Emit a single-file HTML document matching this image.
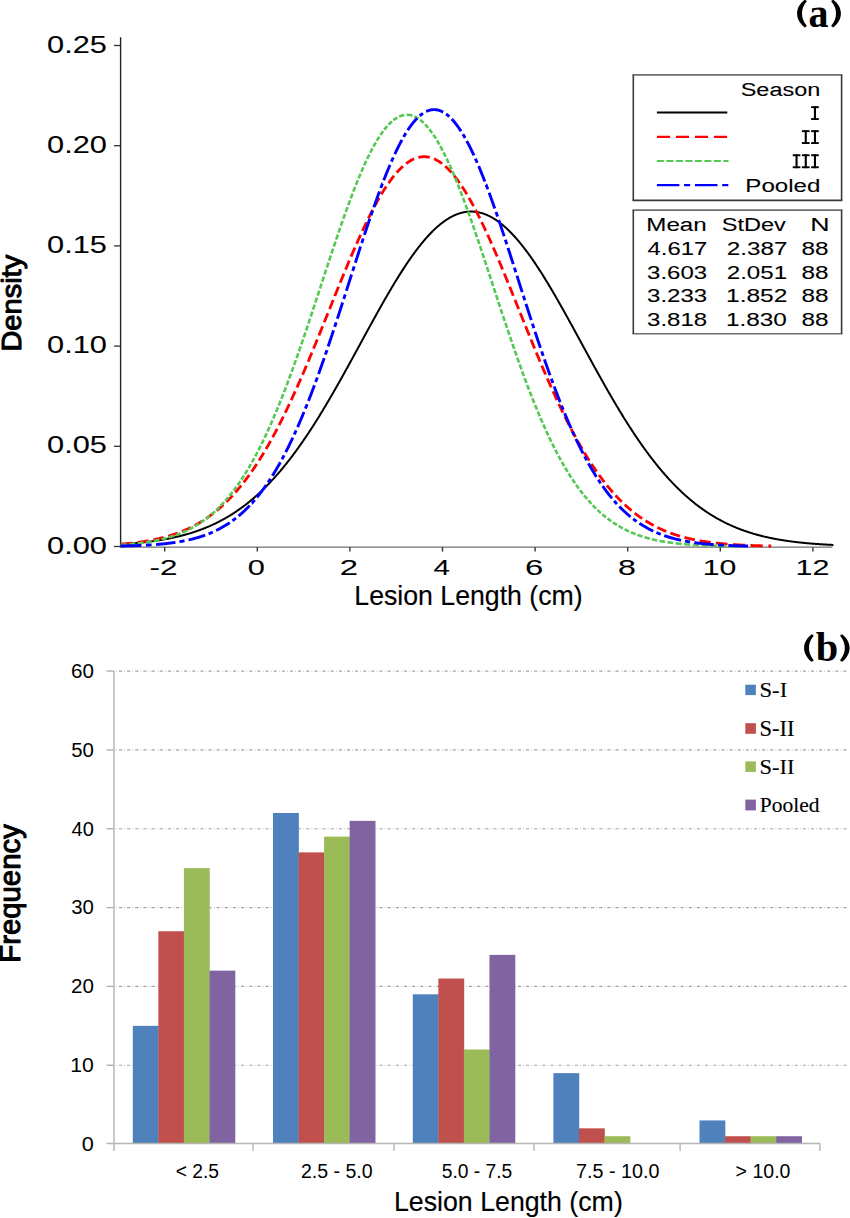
<!DOCTYPE html>
<html><head><meta charset="utf-8"><title>Lesion length distribution</title>
<style>html,body{margin:0;padding:0;background:#fff;overflow:hidden;}  svg{display:block;} text{white-space:pre;}</style>
</head><body><svg width="850" height="1218" viewBox="0 0 850 1218"><line x1="120.6" y1="37.3" x2="120.6" y2="547.5" stroke="#222" stroke-width="1.4"/><line x1="120" y1="547.2" x2="832.5" y2="547.2" stroke="#707070" stroke-width="1.3"/><line x1="114" y1="45.50" x2="120.6" y2="45.50" stroke="#333" stroke-width="1.3"/><line x1="114" y1="145.70" x2="120.6" y2="145.70" stroke="#333" stroke-width="1.3"/><line x1="114" y1="245.90" x2="120.6" y2="245.90" stroke="#333" stroke-width="1.3"/><line x1="114" y1="346.10" x2="120.6" y2="346.10" stroke="#333" stroke-width="1.3"/><line x1="114" y1="446.30" x2="120.6" y2="446.30" stroke="#333" stroke-width="1.3"/><line x1="114" y1="546.50" x2="120.6" y2="546.50" stroke="#333" stroke-width="1.3"/><line x1="164.70" y1="547.2" x2="164.70" y2="551.6" stroke="#333" stroke-width="1.4"/><line x1="257.30" y1="547.2" x2="257.30" y2="551.6" stroke="#333" stroke-width="1.4"/><line x1="349.90" y1="547.2" x2="349.90" y2="551.6" stroke="#333" stroke-width="1.4"/><line x1="442.50" y1="547.2" x2="442.50" y2="551.6" stroke="#333" stroke-width="1.4"/><line x1="535.10" y1="547.2" x2="535.10" y2="551.6" stroke="#333" stroke-width="1.4"/><line x1="627.70" y1="547.2" x2="627.70" y2="551.6" stroke="#333" stroke-width="1.4"/><line x1="720.30" y1="547.2" x2="720.30" y2="551.6" stroke="#333" stroke-width="1.4"/><line x1="812.90" y1="547.2" x2="812.90" y2="551.6" stroke="#333" stroke-width="1.4"/><path d="M120.60,544.31 L121.08,544.28 L121.55,544.25 L122.03,544.21 L122.50,544.18 L122.98,544.15 L123.45,544.12 L123.93,544.09 L124.40,544.05 L124.88,544.02 L125.35,543.99 L125.83,543.95 L126.30,543.92 L126.78,543.88 L127.25,543.85 L127.73,543.81 L128.20,543.78 L128.68,543.74 L129.15,543.70 L129.63,543.67 L130.10,543.63 L130.58,543.59 L131.05,543.55 L131.53,543.51 L132.00,543.47 L132.48,543.43 L132.96,543.39 L133.43,543.35 L133.91,543.31 L134.38,543.27 L134.86,543.22 L135.33,543.18 L135.81,543.14 L136.28,543.09 L136.76,543.05 L137.23,543.00 L137.71,542.96 L138.18,542.91 L138.66,542.86 L139.13,542.82 L139.61,542.77 L140.08,542.72 L140.56,542.67 L141.03,542.62 L141.51,542.57 L141.98,542.52 L142.46,542.47 L142.93,542.42 L143.41,542.37 L143.88,542.31 L144.36,542.26 L144.84,542.21 L145.31,542.15 L145.79,542.10 L146.26,542.04 L146.74,541.98 L147.21,541.93 L147.69,541.87 L148.16,541.81 L148.64,541.75 L149.11,541.69 L149.59,541.63 L150.06,541.57 L150.54,541.51 L151.01,541.44 L151.49,541.38 L151.96,541.32 L152.44,541.25 L152.91,541.19 L153.39,541.12 L153.86,541.05 L154.34,540.99 L154.81,540.92 L155.29,540.85 L155.76,540.78 L156.24,540.71 L156.72,540.64 L157.19,540.56 L157.67,540.49 L158.14,540.42 L158.62,540.34 L159.09,540.27 L159.57,540.19 L160.04,540.12 L160.52,540.04 L160.99,539.96 L161.47,539.88 L161.94,539.80 L162.42,539.72 L162.89,539.64 L163.37,539.55 L163.84,539.47 L164.32,539.39 L164.79,539.30 L165.27,539.21 L165.74,539.13 L166.22,539.04 L166.69,538.95 L167.17,538.86 L167.64,538.77 L168.12,538.68 L168.60,538.59 L169.07,538.49 L169.55,538.40 L170.02,538.30 L170.50,538.20 L170.97,538.11 L171.45,538.01 L171.92,537.91 L172.40,537.81 L172.87,537.71 L173.35,537.60 L173.82,537.50 L174.30,537.40 L174.77,537.29 L175.25,537.18 L175.72,537.08 L176.20,536.97 L176.67,536.86 L177.15,536.75 L177.62,536.64 L178.10,536.52 L178.57,536.41 L179.05,536.29 L179.52,536.18 L180.00,536.06 L180.48,535.94 L180.95,535.82 L181.43,535.70 L181.90,535.58 L182.38,535.45 L182.85,535.33 L183.33,535.20 L183.80,535.07 L184.28,534.95 L184.75,534.82 L185.23,534.69 L185.70,534.55 L186.18,534.42 L186.65,534.29 L187.13,534.15 L187.60,534.01 L188.08,533.87 L188.55,533.74 L189.03,533.59 L189.50,533.45 L189.98,533.31 L190.45,533.16 L190.93,533.02 L191.40,532.87 L191.88,532.72 L192.36,532.57 L192.83,532.42 L193.31,532.27 L193.78,532.11 L194.26,531.96 L194.73,531.80 L195.21,531.64 L195.68,531.48 L196.16,531.32 L196.63,531.15 L197.11,530.99 L197.58,530.82 L198.06,530.66 L198.53,530.49 L199.01,530.32 L199.48,530.14 L199.96,529.97 L200.43,529.80 L200.91,529.62 L201.38,529.44 L201.86,529.26 L202.33,529.08 L202.81,528.90 L203.28,528.71 L203.76,528.53 L204.24,528.34 L204.71,528.15 L205.19,527.96 L205.66,527.77 L206.14,527.57 L206.61,527.37 L207.09,527.18 L207.56,526.98 L208.04,526.78 L208.51,526.57 L208.99,526.37 L209.46,526.16 L209.94,525.96 L210.41,525.75 L210.89,525.54 L211.36,525.32 L211.84,525.11 L212.31,524.89 L212.79,524.67 L213.26,524.45 L213.74,524.23 L214.21,524.01 L214.69,523.78 L215.16,523.55 L215.64,523.32 L216.12,523.09 L216.59,522.86 L217.07,522.62 L217.54,522.39 L218.02,522.15 L218.49,521.91 L218.97,521.66 L219.44,521.42 L219.92,521.17 L220.39,520.93 L220.87,520.67 L221.34,520.42 L221.82,520.17 L222.29,519.91 L222.77,519.65 L223.24,519.39 L223.72,519.13 L224.19,518.87 L224.67,518.60 L225.14,518.33 L225.62,518.06 L226.09,517.79 L226.57,517.51 L227.04,517.24 L227.52,516.96 L228.00,516.68 L228.47,516.39 L228.95,516.11 L229.42,515.82 L229.90,515.53 L230.37,515.24 L230.85,514.95 L231.32,514.65 L231.80,514.35 L232.27,514.05 L232.75,513.75 L233.22,513.44 L233.70,513.14 L234.17,512.83 L234.65,512.52 L235.12,512.20 L235.60,511.89 L236.07,511.57 L236.55,511.25 L237.02,510.93 L237.50,510.60 L237.97,510.27 L238.45,509.94 L238.92,509.61 L239.40,509.28 L239.88,508.94 L240.35,508.60 L240.83,508.26 L241.30,507.92 L241.78,507.57 L242.25,507.22 L242.73,506.87 L243.20,506.52 L243.68,506.16 L244.15,505.80 L244.63,505.44 L245.10,505.08 L245.58,504.72 L246.05,504.35 L246.53,503.98 L247.00,503.60 L247.48,503.23 L247.95,502.85 L248.43,502.47 L248.90,502.09 L249.38,501.70 L249.85,501.32 L250.33,500.93 L250.80,500.53 L251.28,500.14 L251.76,499.74 L252.23,499.34 L252.71,498.94 L253.18,498.53 L253.66,498.12 L254.13,497.71 L254.61,497.30 L255.08,496.89 L255.56,496.47 L256.03,496.05 L256.51,495.62 L256.98,495.20 L257.46,494.77 L257.93,494.34 L258.41,493.90 L258.88,493.47 L259.36,493.03 L259.83,492.59 L260.31,492.14 L260.78,491.69 L261.26,491.25 L261.73,490.79 L262.21,490.34 L262.68,489.88 L263.16,489.42 L263.64,488.96 L264.11,488.49 L264.59,488.02 L265.06,487.55 L265.54,487.08 L266.01,486.60 L266.49,486.12 L266.96,485.64 L267.44,485.16 L267.91,484.67 L268.39,484.18 L268.86,483.69 L269.34,483.19 L269.81,482.69 L270.29,482.19 L270.76,481.69 L271.24,481.18 L271.71,480.67 L272.19,480.16 L272.66,479.64 L273.14,479.13 L273.61,478.61 L274.09,478.08 L274.56,477.56 L275.04,477.03 L275.52,476.50 L275.99,475.96 L276.47,475.43 L276.94,474.89 L277.42,474.35 L277.89,473.80 L278.37,473.25 L278.84,472.70 L279.32,472.15 L279.79,471.59 L280.27,471.03 L280.74,470.47 L281.22,469.91 L281.69,469.34 L282.17,468.77 L282.64,468.20 L283.12,467.62 L283.59,467.05 L284.07,466.46 L284.54,465.88 L285.02,465.29 L285.49,464.71 L285.97,464.11 L286.44,463.52 L286.92,462.92 L287.40,462.32 L287.87,461.72 L288.35,461.11 L288.82,460.50 L289.30,459.89 L289.77,459.28 L290.25,458.66 L290.72,458.04 L291.20,457.42 L291.67,456.80 L292.15,456.17 L292.62,455.54 L293.10,454.91 L293.57,454.27 L294.05,453.63 L294.52,452.99 L295.00,452.35 L295.47,451.70 L295.95,451.05 L296.42,450.40 L296.90,449.75 L297.37,449.09 L297.85,448.43 L298.32,447.77 L298.80,447.10 L299.28,446.44 L299.75,445.77 L300.23,445.09 L300.70,444.42 L301.18,443.74 L301.65,443.06 L302.13,442.38 L302.60,441.69 L303.08,441.00 L303.55,440.31 L304.03,439.62 L304.50,438.92 L304.98,438.22 L305.45,437.52 L305.93,436.82 L306.40,436.11 L306.88,435.41 L307.35,434.69 L307.83,433.98 L308.30,433.27 L308.78,432.55 L309.25,431.83 L309.73,431.10 L310.20,430.38 L310.68,429.65 L311.16,428.92 L311.63,428.19 L312.11,427.45 L312.58,426.71 L313.06,425.97 L313.53,425.23 L314.01,424.49 L314.48,423.74 L314.96,422.99 L315.43,422.24 L315.91,421.49 L316.38,420.73 L316.86,419.97 L317.33,419.21 L317.81,418.45 L318.28,417.69 L318.76,416.92 L319.23,416.15 L319.71,415.38 L320.18,414.61 L320.66,413.83 L321.13,413.05 L321.61,412.27 L322.08,411.49 L322.56,410.71 L323.04,409.92 L323.51,409.14 L323.99,408.35 L324.46,407.56 L324.94,406.76 L325.41,405.97 L325.89,405.17 L326.36,404.37 L326.84,403.57 L327.31,402.77 L327.79,401.96 L328.26,401.15 L328.74,400.35 L329.21,399.54 L329.69,398.72 L330.16,397.91 L330.64,397.09 L331.11,396.28 L331.59,395.46 L332.06,394.64 L332.54,393.82 L333.01,392.99 L333.49,392.17 L333.96,391.34 L334.44,390.51 L334.92,389.68 L335.39,388.85 L335.87,388.02 L336.34,387.18 L336.82,386.35 L337.29,385.51 L337.77,384.67 L338.24,383.83 L338.72,382.99 L339.19,382.15 L339.67,381.30 L340.14,380.46 L340.62,379.61 L341.09,378.77 L341.57,377.92 L342.04,377.07 L342.52,376.22 L342.99,375.36 L343.47,374.51 L343.94,373.66 L344.42,372.80 L344.89,371.94 L345.37,371.09 L345.84,370.23 L346.32,369.37 L346.80,368.51 L347.27,367.65 L347.75,366.79 L348.22,365.92 L348.70,365.06 L349.17,364.20 L349.65,363.33 L350.12,362.47 L350.60,361.60 L351.07,360.73 L351.55,359.86 L352.02,359.00 L352.50,358.13 L352.97,357.26 L353.45,356.39 L353.92,355.52 L354.40,354.65 L354.87,353.78 L355.35,352.91 L355.82,352.03 L356.30,351.16 L356.77,350.29 L357.25,349.42 L357.72,348.54 L358.20,347.67 L358.68,346.80 L359.15,345.92 L359.63,345.05 L360.10,344.18 L360.58,343.30 L361.05,342.43 L361.53,341.56 L362.00,340.68 L362.48,339.81 L362.95,338.94 L363.43,338.06 L363.90,337.19 L364.38,336.32 L364.85,335.45 L365.33,334.58 L365.80,333.70 L366.28,332.83 L366.75,331.96 L367.23,331.09 L367.70,330.22 L368.18,329.35 L368.65,328.48 L369.13,327.61 L369.60,326.75 L370.08,325.88 L370.56,325.01 L371.03,324.15 L371.51,323.28 L371.98,322.42 L372.46,321.55 L372.93,320.69 L373.41,319.83 L373.88,318.97 L374.36,318.11 L374.83,317.25 L375.31,316.39 L375.78,315.54 L376.26,314.68 L376.73,313.83 L377.21,312.97 L377.68,312.12 L378.16,311.27 L378.63,310.42 L379.11,309.57 L379.58,308.72 L380.06,307.88 L380.53,307.03 L381.01,306.19 L381.48,305.35 L381.96,304.51 L382.44,303.67 L382.91,302.84 L383.39,302.00 L383.86,301.17 L384.34,300.34 L384.81,299.51 L385.29,298.68 L385.76,297.85 L386.24,297.03 L386.71,296.21 L387.19,295.39 L387.66,294.57 L388.14,293.75 L388.61,292.94 L389.09,292.12 L389.56,291.31 L390.04,290.51 L390.51,289.70 L390.99,288.90 L391.46,288.09 L391.94,287.30 L392.41,286.50 L392.89,285.70 L393.36,284.91 L393.84,284.12 L394.32,283.34 L394.79,282.55 L395.27,281.77 L395.74,280.99 L396.22,280.21 L396.69,279.44 L397.17,278.67 L397.64,277.90 L398.12,277.13 L398.59,276.37 L399.07,275.61 L399.54,274.85 L400.02,274.10 L400.49,273.35 L400.97,272.60 L401.44,271.85 L401.92,271.11 L402.39,270.37 L402.87,269.63 L403.34,268.90 L403.82,268.17 L404.29,267.45 L404.77,266.72 L405.24,266.00 L405.72,265.29 L406.20,264.57 L406.67,263.86 L407.15,263.16 L407.62,262.45 L408.10,261.75 L408.57,261.06 L409.05,260.37 L409.52,259.68 L410.00,258.99 L410.47,258.31 L410.95,257.63 L411.42,256.96 L411.90,256.29 L412.37,255.62 L412.85,254.96 L413.32,254.30 L413.80,253.65 L414.27,253.00 L414.75,252.35 L415.22,251.71 L415.70,251.07 L416.17,250.44 L416.65,249.81 L417.12,249.18 L417.60,248.56 L418.08,247.94 L418.55,247.33 L419.03,246.72 L419.50,246.11 L419.98,245.51 L420.45,244.92 L420.93,244.32 L421.40,243.74 L421.88,243.15 L422.35,242.58 L422.83,242.00 L423.30,241.43 L423.78,240.87 L424.25,240.31 L424.73,239.75 L425.20,239.20 L425.68,238.66 L426.15,238.12 L426.63,237.58 L427.10,237.05 L427.58,236.52 L428.05,236.00 L428.53,235.48 L429.00,234.97 L429.48,234.46 L429.96,233.96 L430.43,233.46 L430.91,232.97 L431.38,232.48 L431.86,232.00 L432.33,231.52 L432.81,231.05 L433.28,230.58 L433.76,230.12 L434.23,229.66 L434.71,229.21 L435.18,228.77 L435.66,228.33 L436.13,227.89 L436.61,227.46 L437.08,227.04 L437.56,226.62 L438.03,226.20 L438.51,225.79 L438.98,225.39 L439.46,224.99 L439.93,224.60 L440.41,224.21 L440.88,223.83 L441.36,223.45 L441.84,223.08 L442.31,222.72 L442.79,222.36 L443.26,222.00 L443.74,221.66 L444.21,221.31 L444.69,220.98 L445.16,220.64 L445.64,220.32 L446.11,220.00 L446.59,219.69 L447.06,219.38 L447.54,219.07 L448.01,218.78 L448.49,218.49 L448.96,218.20 L449.44,217.92 L449.91,217.65 L450.39,217.38 L450.86,217.12 L451.34,216.86 L451.81,216.61 L452.29,216.37 L452.76,216.13 L453.24,215.90 L453.72,215.67 L454.19,215.45 L454.67,215.24 L455.14,215.03 L455.62,214.83 L456.09,214.63 L456.57,214.44 L457.04,214.26 L457.52,214.08 L457.99,213.90 L458.47,213.74 L458.94,213.58 L459.42,213.42 L459.89,213.28 L460.37,213.13 L460.84,213.00 L461.32,212.87 L461.79,212.75 L462.27,212.63 L462.74,212.52 L463.22,212.41 L463.69,212.31 L464.17,212.22 L464.64,212.13 L465.12,212.05 L465.60,211.98 L466.07,211.91 L466.55,211.85 L467.02,211.79 L467.50,211.74 L467.97,211.70 L468.45,211.66 L468.92,211.63 L469.40,211.61 L469.87,211.59 L470.35,211.58 L470.82,211.57 L471.30,211.57 L471.77,211.58 L472.25,211.59 L472.72,211.61 L473.20,211.63 L473.67,211.66 L474.15,211.70 L474.62,211.74 L475.10,211.79 L475.57,211.85 L476.05,211.91 L476.52,211.98 L477.00,212.05 L477.48,212.13 L477.95,212.22 L478.43,212.31 L478.90,212.41 L479.38,212.51 L479.85,212.63 L480.33,212.74 L480.80,212.87 L481.28,213.00 L481.75,213.13 L482.23,213.27 L482.70,213.42 L483.18,213.57 L483.65,213.73 L484.13,213.90 L484.60,214.07 L485.08,214.25 L485.55,214.43 L486.03,214.62 L486.50,214.82 L486.98,215.02 L487.45,215.23 L487.93,215.44 L488.40,215.67 L488.88,215.89 L489.36,216.12 L489.83,216.36 L490.31,216.61 L490.78,216.86 L491.26,217.11 L491.73,217.37 L492.21,217.64 L492.68,217.91 L493.16,218.19 L493.63,218.48 L494.11,218.77 L494.58,219.07 L495.06,219.37 L495.53,219.68 L496.01,219.99 L496.48,220.31 L496.96,220.64 L497.43,220.97 L497.91,221.30 L498.38,221.65 L498.86,221.99 L499.33,222.35 L499.81,222.71 L500.28,223.07 L500.76,223.44 L501.24,223.82 L501.71,224.20 L502.19,224.59 L502.66,224.98 L503.14,225.38 L503.61,225.78 L504.09,226.19 L504.56,226.60 L505.04,227.02 L505.51,227.45 L505.99,227.88 L506.46,228.31 L506.94,228.75 L507.41,229.20 L507.89,229.65 L508.36,230.11 L508.84,230.57 L509.31,231.04 L509.79,231.51 L510.26,231.99 L510.74,232.47 L511.21,232.95 L511.69,233.45 L512.16,233.94 L512.64,234.45 L513.12,234.95 L513.59,235.47 L514.07,235.98 L514.54,236.50 L515.02,237.03 L515.49,237.56 L515.97,238.10 L516.44,238.64 L516.92,239.19 L517.39,239.74 L517.87,240.29 L518.34,240.85 L518.82,241.42 L519.29,241.99 L519.77,242.56 L520.24,243.14 L520.72,243.72 L521.19,244.31 L521.67,244.90 L522.14,245.49 L522.62,246.09 L523.09,246.70 L523.57,247.31 L524.04,247.92 L524.52,248.54 L525.00,249.16 L525.47,249.79 L525.95,250.42 L526.42,251.05 L526.90,251.69 L527.37,252.33 L527.85,252.98 L528.32,253.63 L528.80,254.28 L529.27,254.94 L529.75,255.60 L530.22,256.27 L530.70,256.94 L531.17,257.61 L531.65,258.29 L532.12,258.97 L532.60,259.66 L533.07,260.34 L533.55,261.04 L534.02,261.73 L534.50,262.43 L534.97,263.13 L535.45,263.84 L535.92,264.55 L536.40,265.26 L536.88,265.98 L537.35,266.70 L537.83,267.42 L538.30,268.15 L538.78,268.88 L539.25,269.61 L539.73,270.35 L540.20,271.09 L540.68,271.83 L541.15,272.58 L541.63,273.32 L542.10,274.08 L542.58,274.83 L543.05,275.59 L543.53,276.35 L544.00,277.11 L544.48,277.88 L544.95,278.64 L545.43,279.42 L545.90,280.19 L546.38,280.97 L546.85,281.75 L547.33,282.53 L547.80,283.31 L548.28,284.10 L548.76,284.89 L549.23,285.68 L549.71,286.48 L550.18,287.27 L550.66,288.07 L551.13,288.87 L551.61,289.68 L552.08,290.48 L552.56,291.29 L553.03,292.10 L553.51,292.91 L553.98,293.73 L554.46,294.54 L554.93,295.36 L555.41,296.18 L555.88,297.00 L556.36,297.83 L556.83,298.65 L557.31,299.48 L557.78,300.31 L558.26,301.14 L558.73,301.98 L559.21,302.81 L559.68,303.65 L560.16,304.49 L560.64,305.33 L561.11,306.17 L561.59,307.01 L562.06,307.85 L562.54,308.70 L563.01,309.55 L563.49,310.39 L563.96,311.24 L564.44,312.09 L564.91,312.95 L565.39,313.80 L565.86,314.65 L566.34,315.51 L566.81,316.37 L567.29,317.23 L567.76,318.08 L568.24,318.94 L568.71,319.80 L569.19,320.67 L569.66,321.53 L570.14,322.39 L570.61,323.26 L571.09,324.12 L571.56,324.99 L572.04,325.85 L572.52,326.72 L572.99,327.59 L573.47,328.46 L573.94,329.33 L574.42,330.19 L574.89,331.06 L575.37,331.94 L575.84,332.81 L576.32,333.68 L576.79,334.55 L577.27,335.42 L577.74,336.29 L578.22,337.17 L578.69,338.04 L579.17,338.91 L579.64,339.78 L580.12,340.66 L580.59,341.53 L581.07,342.40 L581.54,343.28 L582.02,344.15 L582.49,345.03 L582.97,345.90 L583.44,346.77 L583.92,347.65 L584.40,348.52 L584.87,349.39 L585.35,350.26 L585.82,351.14 L586.30,352.01 L586.77,352.88 L587.25,353.75 L587.72,354.62 L588.20,355.49 L588.67,356.36 L589.15,357.23 L589.62,358.10 L590.10,358.97 L590.57,359.84 L591.05,360.71 L591.52,361.57 L592.00,362.44 L592.47,363.31 L592.95,364.17 L593.42,365.03 L593.90,365.90 L594.37,366.76 L594.85,367.62 L595.32,368.48 L595.80,369.34 L596.28,370.20 L596.75,371.06 L597.23,371.92 L597.70,372.77 L598.18,373.63 L598.65,374.48 L599.13,375.34 L599.60,376.19 L600.08,377.04 L600.55,377.89 L601.03,378.74 L601.50,379.59 L601.98,380.43 L602.45,381.28 L602.93,382.12 L603.40,382.97 L603.88,383.81 L604.35,384.65 L604.83,385.49 L605.30,386.32 L605.78,387.16 L606.25,387.99 L606.73,388.83 L607.20,389.66 L607.68,390.49 L608.16,391.32 L608.63,392.14 L609.11,392.97 L609.58,393.79 L610.06,394.61 L610.53,395.43 L611.01,396.25 L611.48,397.07 L611.96,397.89 L612.43,398.70 L612.91,399.51 L613.38,400.32 L613.86,401.13 L614.33,401.94 L614.81,402.74 L615.28,403.54 L615.76,404.35 L616.23,405.15 L616.71,405.94 L617.18,406.74 L617.66,407.53 L618.13,408.32 L618.61,409.11 L619.08,409.90 L619.56,410.69 L620.04,411.47 L620.51,412.25 L620.99,413.03 L621.46,413.81 L621.94,414.58 L622.41,415.36 L622.89,416.13 L623.36,416.90 L623.84,417.66 L624.31,418.43 L624.79,419.19 L625.26,419.95 L625.74,420.71 L626.21,421.47 L626.69,422.22 L627.16,422.97 L627.64,423.72 L628.11,424.47 L628.59,425.21 L629.06,425.95 L629.54,426.69 L630.01,427.43 L630.49,428.16 L630.96,428.90 L631.44,429.63 L631.92,430.36 L632.39,431.08 L632.87,431.80 L633.34,432.53 L633.82,433.24 L634.29,433.96 L634.77,434.67 L635.24,435.38 L635.72,436.09 L636.19,436.80 L636.67,437.50 L637.14,438.20 L637.62,438.90 L638.09,439.60 L638.57,440.29 L639.04,440.98 L639.52,441.67 L639.99,442.36 L640.47,443.04 L640.94,443.72 L641.42,444.40 L641.89,445.07 L642.37,445.75 L642.84,446.42 L643.32,447.08 L643.80,447.75 L644.27,448.41 L644.75,449.07 L645.22,449.73 L645.70,450.38 L646.17,451.03 L646.65,451.68 L647.12,452.33 L647.60,452.97 L648.07,453.61 L648.55,454.25 L649.02,454.89 L649.50,455.52 L649.97,456.15 L650.45,456.78 L650.92,457.40 L651.40,458.03 L651.87,458.64 L652.35,459.26 L652.82,459.88 L653.30,460.49 L653.77,461.09 L654.25,461.70 L654.72,462.30 L655.20,462.90 L655.68,463.50 L656.15,464.10 L656.63,464.69 L657.10,465.28 L657.58,465.86 L658.05,466.45 L658.53,467.03 L659.00,467.61 L659.48,468.18 L659.95,468.75 L660.43,469.32 L660.90,469.89 L661.38,470.46 L661.85,471.02 L662.33,471.58 L662.80,472.13 L663.28,472.69 L663.75,473.24 L664.23,473.78 L664.70,474.33 L665.18,474.87 L665.65,475.41 L666.13,475.95 L666.60,476.48 L667.08,477.01 L667.56,477.54 L668.03,478.07 L668.51,478.59 L668.98,479.11 L669.46,479.63 L669.93,480.14 L670.41,480.66 L670.88,481.16 L671.36,481.67 L671.83,482.18 L672.31,482.68 L672.78,483.17 L673.26,483.67 L673.73,484.16 L674.21,484.65 L674.68,485.14 L675.16,485.63 L675.63,486.11 L676.11,486.59 L676.58,487.06 L677.06,487.54 L677.53,488.01 L678.01,488.48 L678.48,488.94 L678.96,489.41 L679.44,489.87 L679.91,490.32 L680.39,490.78 L680.86,491.23 L681.34,491.68 L681.81,492.13 L682.29,492.57 L682.76,493.01 L683.24,493.45 L683.71,493.89 L684.19,494.32 L684.66,494.76 L685.14,495.18 L685.61,495.61 L686.09,496.03 L686.56,496.45 L687.04,496.87 L687.51,497.29 L687.99,497.70 L688.46,498.11 L688.94,498.52 L689.41,498.93 L689.89,499.33 L690.36,499.73 L690.84,500.13 L691.32,500.52 L691.79,500.91 L692.27,501.31 L692.74,501.69 L693.22,502.08 L693.69,502.46 L694.17,502.84 L694.64,503.22 L695.12,503.59 L695.59,503.97 L696.07,504.34 L696.54,504.70 L697.02,505.07 L697.49,505.43 L697.97,505.79 L698.44,506.15 L698.92,506.51 L699.39,506.86 L699.87,507.21 L700.34,507.56 L700.82,507.91 L701.29,508.25 L701.77,508.59 L702.24,508.93 L702.72,509.27 L703.20,509.60 L703.67,509.93 L704.15,510.26 L704.62,510.59 L705.10,510.92 L705.57,511.24 L706.05,511.56 L706.52,511.88 L707.00,512.19 L707.47,512.51 L707.95,512.82 L708.42,513.13 L708.90,513.44 L709.37,513.74 L709.85,514.04 L710.32,514.34 L710.80,514.64 L711.27,514.94 L711.75,515.23 L712.22,515.52 L712.70,515.81 L713.17,516.10 L713.65,516.39 L714.12,516.67 L714.60,516.95 L715.08,517.23 L715.55,517.51 L716.03,517.78 L716.50,518.05 L716.98,518.32 L717.45,518.59 L717.93,518.86 L718.40,519.12 L718.88,519.39 L719.35,519.65 L719.83,519.90 L720.30,520.16 L720.78,520.42 L721.25,520.67 L721.73,520.92 L722.20,521.17 L722.68,521.41 L723.15,521.66 L723.63,521.90 L724.10,522.14 L724.58,522.38 L725.05,522.62 L725.53,522.85 L726.00,523.09 L726.48,523.32 L726.96,523.55 L727.43,523.77 L727.91,524.00 L728.38,524.22 L728.86,524.45 L729.33,524.67 L729.81,524.88 L730.28,525.10 L730.76,525.32 L731.23,525.53 L731.71,525.74 L732.18,525.95 L732.66,526.16 L733.13,526.36 L733.61,526.57 L734.08,526.77 L734.56,526.97 L735.03,527.17 L735.51,527.37 L735.98,527.57 L736.46,527.76 L736.93,527.95 L737.41,528.14 L737.88,528.33 L738.36,528.52 L738.84,528.71 L739.31,528.89 L739.79,529.07 L740.26,529.26 L740.74,529.44 L741.21,529.61 L741.69,529.79 L742.16,529.97 L742.64,530.14 L743.11,530.31 L743.59,530.48 L744.06,530.65 L744.54,530.82 L745.01,530.98 L745.49,531.15 L745.96,531.31 L746.44,531.47 L746.91,531.63 L747.39,531.79 L747.86,531.95 L748.34,532.11 L748.81,532.26 L749.29,532.41 L749.76,532.57 L750.24,532.72 L750.72,532.87 L751.19,533.01 L751.67,533.16 L752.14,533.30 L752.62,533.45 L753.09,533.59 L753.57,533.73 L754.04,533.87 L754.52,534.01 L754.99,534.15 L755.47,534.28 L755.94,534.42 L756.42,534.55 L756.89,534.68 L757.37,534.81 L757.84,534.94 L758.32,535.07 L758.79,535.20 L759.27,535.32 L759.74,535.45 L760.22,535.57 L760.69,535.69 L761.17,535.82 L761.64,535.94 L762.12,536.05 L762.60,536.17 L763.07,536.29 L763.55,536.40 L764.02,536.52 L764.50,536.63 L764.97,536.74 L765.45,536.85 L765.92,536.96 L766.40,537.07 L766.87,537.18 L767.35,537.29 L767.82,537.39 L768.30,537.50 L768.77,537.60 L769.25,537.70 L769.72,537.81 L770.20,537.91 L770.67,538.01 L771.15,538.10 L771.62,538.20 L772.10,538.30 L772.57,538.39 L773.05,538.49 L773.52,538.58 L774.00,538.68 L774.48,538.77 L774.95,538.86 L775.43,538.95 L775.90,539.04 L776.38,539.12 L776.85,539.21 L777.33,539.30 L777.80,539.38 L778.28,539.47 L778.75,539.55 L779.23,539.63 L779.70,539.72 L780.18,539.80 L780.65,539.88 L781.13,539.96 L781.60,540.04 L782.08,540.11 L782.55,540.19 L783.03,540.27 L783.50,540.34 L783.98,540.42 L784.45,540.49 L784.93,540.56 L785.40,540.63 L785.88,540.71 L786.36,540.78 L786.83,540.85 L787.31,540.92 L787.78,540.98 L788.26,541.05 L788.73,541.12 L789.21,541.18 L789.68,541.25 L790.16,541.31 L790.63,541.38 L791.11,541.44 L791.58,541.50 L792.06,541.57 L792.53,541.63 L793.01,541.69 L793.48,541.75 L793.96,541.81 L794.43,541.87 L794.91,541.92 L795.38,541.98 L795.86,542.04 L796.33,542.09 L796.81,542.15 L797.28,542.20 L797.76,542.26 L798.24,542.31 L798.71,542.37 L799.19,542.42 L799.66,542.47 L800.14,542.52 L800.61,542.57 L801.09,542.62 L801.56,542.67 L802.04,542.72 L802.51,542.77 L802.99,542.82 L803.46,542.86 L803.94,542.91 L804.41,542.96 L804.89,543.00 L805.36,543.05 L805.84,543.09 L806.31,543.14 L806.79,543.18 L807.26,543.22 L807.74,543.27 L808.21,543.31 L808.69,543.35 L809.16,543.39 L809.64,543.43 L810.12,543.47 L810.59,543.51 L811.07,543.55 L811.54,543.59 L812.02,543.63 L812.49,543.67 L812.97,543.70 L813.44,543.74 L813.92,543.78 L814.39,543.81 L814.87,543.85 L815.34,543.88 L815.82,543.92 L816.29,543.95 L816.77,543.99 L817.24,544.02 L817.72,544.05 L818.19,544.09 L818.67,544.12 L819.14,544.15 L819.62,544.18 L820.09,544.21 L820.57,544.24 L821.04,544.27 L821.52,544.30 L822.00,544.33 L822.47,544.36 L822.95,544.39 L823.42,544.42 L823.90,544.45 L824.37,544.48 L824.85,544.51 L825.32,544.53 L825.80,544.56 L826.27,544.59 L826.75,544.61 L827.22,544.64 L827.70,544.66 L828.17,544.69 L828.65,544.71 L829.12,544.74 L829.60,544.76 L830.07,544.79 L830.55,544.81 L831.02,544.83 L831.50,544.86 L831.97,544.88 L832.45,544.90 L832.92,544.93 L833.40,544.95" fill="none" stroke="#000000" stroke-width="2.0" stroke-linejoin="round"/><path d="M120.60,544.14 L121.03,544.11 L121.47,544.07 L121.90,544.04 L122.33,544.00 L122.77,543.96 L123.20,543.93 L123.64,543.89 L124.07,543.85 L124.50,543.81 L124.94,543.77 L125.37,543.74 L125.80,543.70 L126.24,543.65 L126.67,543.61 L127.11,543.57 L127.54,543.53 L127.97,543.49 L128.41,543.44 L128.84,543.40 L129.27,543.36 L129.71,543.31 L130.14,543.27 L130.58,543.22 L131.01,543.17 L131.44,543.13 L131.88,543.08 L132.29,543.03M137.38,542.42 L137.52,542.40 L137.95,542.34 L138.38,542.28 L138.82,542.23 L139.25,542.17 L139.68,542.11 L140.12,542.05 L140.55,541.99 L140.99,541.92 L141.42,541.86 L141.85,541.80 L142.29,541.73 L142.72,541.67 L143.15,541.60 L143.59,541.54 L144.02,541.47 L144.46,541.40 L144.89,541.33 L145.32,541.26 L145.76,541.19 L146.19,541.12 L146.62,541.05 L147.06,540.97 L147.49,540.90 L147.93,540.83 L148.36,540.75 L148.49,540.73M153.28,539.82 L153.56,539.77 L154.00,539.68 L154.43,539.59 L154.86,539.50 L155.30,539.41 L155.73,539.32 L156.17,539.22 L156.60,539.13 L157.03,539.03 L157.47,538.94 L157.90,538.84 L158.33,538.74 L158.77,538.64 L159.20,538.54 L159.64,538.44 L160.07,538.34 L160.50,538.23 L160.94,538.13 L161.37,538.02 L161.80,537.91 L162.24,537.80 L162.67,537.69 L163.11,537.58 L163.54,537.47 L163.69,537.43M168.15,536.19 L168.31,536.15 L168.74,536.02 L169.18,535.89 L169.61,535.76 L170.05,535.63 L170.48,535.49 L170.91,535.36 L171.35,535.22 L171.78,535.08 L172.21,534.94 L172.65,534.80 L173.08,534.66 L173.52,534.52 L173.95,534.37 L174.38,534.23 L174.82,534.08 L175.25,533.93 L175.68,533.78 L176.12,533.62 L176.55,533.47 L176.99,533.31 L177.42,533.16 L177.78,533.02M181.89,531.43 L182.19,531.31 L182.62,531.14 L183.06,530.96 L183.49,530.78 L183.93,530.59 L184.36,530.41 L184.79,530.22 L185.23,530.03 L185.66,529.84 L186.09,529.65 L186.53,529.46 L186.96,529.26 L187.39,529.06 L187.83,528.87 L188.26,528.66 L188.70,528.46 L189.13,528.26 L189.56,528.05 L190.00,527.84 L190.43,527.63 L190.74,527.48M194.50,525.55 L194.77,525.40 L195.20,525.17 L195.64,524.94 L196.07,524.70 L196.50,524.46 L196.94,524.21 L197.37,523.97 L197.80,523.72 L198.24,523.47 L198.67,523.22 L199.11,522.97 L199.54,522.71 L199.97,522.46 L200.41,522.19 L200.84,521.93 L201.27,521.67 L201.71,521.40 L202.14,521.13 L202.58,520.86 L202.60,520.84M206.05,518.59 L206.48,518.30 L206.91,518.00 L207.35,517.71 L207.78,517.40 L208.21,517.10 L208.65,516.79 L209.08,516.48 L209.52,516.17 L209.95,515.86 L210.38,515.54 L210.82,515.22 L211.25,514.90 L211.68,514.57 L212.12,514.25 L212.55,513.92 L212.99,513.58 L213.42,513.25 L213.47,513.21M216.63,510.68 L216.89,510.46 L217.32,510.10 L217.76,509.74 L218.19,509.37 L218.62,509.00 L219.06,508.63 L219.49,508.26 L219.92,507.88 L220.36,507.50 L220.79,507.12 L221.23,506.73 L221.66,506.34 L222.09,505.95 L222.53,505.55 L222.96,505.15 L223.39,504.75 L223.45,504.70M226.37,501.91 L226.43,501.85 L226.86,501.43 L227.30,501.00 L227.73,500.57 L228.17,500.13 L228.60,499.69 L229.03,499.25 L229.47,498.81 L229.90,498.36 L230.33,497.91 L230.77,497.45 L231.20,496.99 L231.64,496.53 L232.07,496.07 L232.50,495.60 L232.67,495.42M235.38,492.42 L235.54,492.24 L235.97,491.74 L236.41,491.25 L236.84,490.75 L237.27,490.24 L237.71,489.74 L238.14,489.22 L238.58,488.71 L239.01,488.19 L239.44,487.67 L239.88,487.15 L240.31,486.62 L240.74,486.09 L241.18,485.55 L241.24,485.48M243.76,482.30 L243.78,482.28 L244.21,481.72 L244.65,481.15 L245.08,480.59 L245.52,480.02 L245.95,479.45 L246.38,478.87 L246.82,478.29 L247.25,477.71 L247.68,477.12 L248.12,476.53 L248.55,475.93 L248.99,475.34 L249.24,474.98M251.61,471.65 L252.02,471.05 L252.45,470.43 L252.89,469.80 L253.32,469.16 L253.76,468.53 L254.19,467.89 L254.62,467.24 L255.06,466.59 L255.49,465.94 L255.92,465.29 L256.36,464.63 L256.76,464.01M259.00,460.54 L259.39,459.91 L259.83,459.23 L260.26,458.53 L260.70,457.84 L261.13,457.14 L261.56,456.44 L262.00,455.73 L262.43,455.02 L262.86,454.31 L263.30,453.59 L263.73,452.87 L263.88,452.62M266.00,449.04 L266.33,448.47 L266.77,447.73 L267.20,446.98 L267.64,446.23 L268.07,445.47 L268.50,444.71 L268.94,443.95 L269.37,443.18 L269.80,442.41 L270.24,441.63 L270.65,440.89M272.67,437.22 L272.84,436.91 L273.27,436.11 L273.71,435.31 L274.14,434.50 L274.58,433.69 L275.01,432.88 L275.44,432.07 L275.88,431.25 L276.31,430.42 L276.74,429.59 L277.12,428.87M279.07,425.11 L279.35,424.56 L279.78,423.71 L280.21,422.86 L280.65,422.00 L281.08,421.14 L281.52,420.27 L281.95,419.41 L282.38,418.54 L282.82,417.66 L283.25,416.78 L283.35,416.59M285.22,412.76 L285.42,412.35 L285.85,411.45 L286.29,410.55 L286.72,409.65 L287.15,408.74 L287.59,407.84 L288.02,406.92 L288.45,406.01 L288.89,405.09 L289.32,404.17 L289.36,404.10M291.17,400.21 L291.49,399.52 L291.92,398.58 L292.36,397.64 L292.79,396.69 L293.23,395.74 L293.66,394.79 L294.09,393.84 L294.53,392.88 L294.96,391.92 L295.19,391.43M296.95,387.49 L297.13,387.09 L297.56,386.11 L298.00,385.14 L298.43,384.16 L298.86,383.17 L299.30,382.19 L299.73,381.20 L300.17,380.21 L300.60,379.22 L300.87,378.61M302.59,374.63 L302.77,374.22 L303.20,373.21 L303.64,372.20 L304.07,371.19 L304.50,370.18 L304.94,369.16 L305.37,368.15 L305.80,367.13 L306.24,366.11 L306.42,365.67M308.12,361.66 L308.41,360.97 L308.84,359.93 L309.27,358.90 L309.71,357.86 L310.14,356.82 L310.58,355.78 L311.01,354.74 L311.44,353.69 L311.88,352.65 L311.89,352.63M313.55,348.59 L313.61,348.45 L314.05,347.40 L314.48,346.34 L314.91,345.29 L315.35,344.23 L315.78,343.17 L316.21,342.11 L316.65,341.05 L317.08,339.98 L317.27,339.51M318.92,335.46 L319.25,334.65 L319.68,333.59 L320.12,332.52 L320.55,331.44 L320.98,330.37 L321.42,329.30 L321.85,328.23 L322.29,327.15 L322.61,326.35M324.25,322.29 L324.45,321.77 L324.89,320.70 L325.32,319.62 L325.76,318.54 L326.19,317.46 L326.62,316.38 L327.06,315.30 L327.49,314.22 L327.92,313.16M329.55,309.09 L329.66,308.82 L330.09,307.74 L330.53,306.67 L330.96,305.59 L331.39,304.51 L331.83,303.43 L332.26,302.35 L332.70,301.27 L333.13,300.19 L333.22,299.96M334.86,295.90 L334.86,295.88 L335.30,294.81 L335.73,293.73 L336.17,292.66 L336.60,291.59 L337.03,290.51 L337.47,289.44 L337.90,288.37 L338.33,287.30 L338.54,286.79M340.19,282.73 L340.50,281.97 L340.94,280.90 L341.37,279.84 L341.80,278.78 L342.24,277.72 L342.67,276.66 L343.11,275.61 L343.54,274.55 L343.91,273.65M345.58,269.62 L345.71,269.30 L346.14,268.26 L346.58,267.22 L347.01,266.18 L347.44,265.14 L347.88,264.10 L348.31,263.07 L348.74,262.03 L349.18,261.00 L349.35,260.59M351.05,256.59 L351.35,255.89 L351.78,254.87 L352.21,253.86 L352.65,252.85 L353.08,251.84 L353.51,250.83 L353.95,249.83 L354.38,248.83 L354.82,247.83 L354.90,247.64M356.64,243.68 L356.98,242.89 L357.42,241.91 L357.85,240.94 L358.29,239.97 L358.72,239.00 L359.15,238.03 L359.59,237.07 L360.02,236.11 L360.45,235.16 L360.60,234.84M362.39,230.93 L362.62,230.43 L363.06,229.50 L363.49,228.57 L363.92,227.65 L364.36,226.73 L364.79,225.81 L365.23,224.90 L365.66,223.99 L366.09,223.08 L366.50,222.24M368.37,218.41 L368.70,217.74 L369.13,216.87 L369.56,216.00 L370.00,215.14 L370.43,214.28 L370.86,213.42 L371.30,212.57 L371.73,211.72 L372.17,210.88 L372.60,210.05 L372.67,209.91M374.64,206.18 L374.77,205.94 L375.20,205.13 L375.64,204.33 L376.07,203.54 L376.50,202.75 L376.94,201.96 L377.37,201.18 L377.80,200.41 L378.24,199.64 L378.67,198.88 L379.11,198.12 L379.21,197.95M381.31,194.36 L381.71,193.70 L382.14,192.98 L382.57,192.27 L383.01,191.57 L383.44,190.87 L383.88,190.18 L384.31,189.49 L384.74,188.81 L385.18,188.13 L385.61,187.47 L386.04,186.80 L386.25,186.49M388.56,183.10 L388.65,182.97 L389.08,182.35 L389.51,181.74 L389.95,181.14 L390.38,180.54 L390.82,179.95 L391.25,179.36 L391.68,178.79 L392.12,178.22 L392.55,177.65 L392.98,177.10 L393.42,176.55 L393.85,176.00 L394.04,175.78M396.64,172.68 L396.89,172.40 L397.32,171.91 L397.76,171.44 L398.19,170.96 L398.62,170.50 L399.06,170.04 L399.49,169.59 L399.92,169.15 L400.36,168.71 L400.79,168.29 L401.23,167.86 L401.66,167.45 L402.09,167.05 L402.53,166.65 L402.96,166.26 L402.99,166.23M406.11,163.65 L406.43,163.40 L406.86,163.08 L407.30,162.77 L407.73,162.46 L408.17,162.16 L408.60,161.87 L409.03,161.59 L409.47,161.31 L409.90,161.04 L410.33,160.79 L410.77,160.53 L411.20,160.29 L411.64,160.05 L412.07,159.83 L412.50,159.61 L412.94,159.39 L413.37,159.19 L413.80,158.99 L414.12,158.86M418.37,157.41 L418.57,157.36 L419.01,157.26 L419.44,157.17 L419.88,157.09 L420.31,157.01 L420.74,156.95 L421.18,156.89 L421.61,156.84 L422.04,156.79 L422.48,156.76 L422.91,156.73 L423.35,156.71 L423.78,156.70 L424.21,156.70 L424.65,156.71 L425.08,156.72 L425.51,156.74 L425.95,156.77 L426.38,156.81 L426.82,156.86 L427.25,156.91 L427.68,156.97 L428.12,157.05 L428.55,157.12 L428.98,157.21 L429.42,157.31 L429.77,157.39M434.04,158.82 L434.19,158.89 L434.62,159.08 L435.06,159.28 L435.49,159.48 L435.92,159.70 L436.36,159.92 L436.79,160.16 L437.23,160.39 L437.66,160.64 L438.09,160.90 L438.53,161.16 L438.96,161.43 L439.39,161.71 L439.83,162.00 L440.26,162.29 L440.70,162.59 L441.13,162.90 L441.56,163.22 L442.00,163.55 L442.06,163.60M445.18,166.17 L445.47,166.43 L445.90,166.82 L446.33,167.22 L446.77,167.63 L447.20,168.05 L447.63,168.47 L448.07,168.90 L448.50,169.34 L448.94,169.79 L449.37,170.24 L449.80,170.70 L450.24,171.17 L450.67,171.64 L451.10,172.13 L451.54,172.62 L451.54,172.62M454.15,175.71 L454.57,176.24 L455.01,176.79 L455.44,177.34 L455.88,177.90 L456.31,178.46 L456.74,179.04 L457.18,179.62 L457.61,180.20 L458.04,180.80 L458.48,181.40 L458.91,182.01 L459.35,182.62 L459.63,183.03M461.94,186.42 L461.95,186.43 L462.38,187.09 L462.82,187.76 L463.25,188.43 L463.68,189.10 L464.12,189.79 L464.55,190.48 L464.98,191.17 L465.42,191.87 L465.85,192.58 L466.29,193.29 L466.72,194.01 L466.88,194.28M468.99,197.87 L469.32,198.45 L469.76,199.21 L470.19,199.98 L470.62,200.75 L471.06,201.52 L471.49,202.30 L471.92,203.09 L472.36,203.88 L472.79,204.68 L473.23,205.48 L473.56,206.10M475.53,209.83 L475.83,210.41 L476.26,211.25 L476.70,212.09 L477.13,212.94 L477.56,213.79 L478.00,214.65 L478.43,215.51 L478.86,216.38 L479.30,217.25 L479.73,218.13 L479.83,218.33M481.70,222.16 L481.90,222.57 L482.33,223.48 L482.77,224.38 L483.20,225.29 L483.63,226.21 L484.07,227.13 L484.50,228.05 L484.94,228.98 L485.37,229.91 L485.80,230.84 L485.81,230.85M487.60,234.76 L487.97,235.57 L488.41,236.53 L488.84,237.49 L489.27,238.45 L489.71,239.42 L490.14,240.39 L490.57,241.36 L491.01,242.34 L491.44,243.32 L491.56,243.59M493.30,247.56 L493.61,248.27 L494.04,249.27 L494.48,250.27 L494.91,251.27 L495.35,252.28 L495.78,253.29 L496.21,254.30 L496.65,255.31 L497.08,256.33 L497.15,256.50M498.85,260.51 L499.25,261.45 L499.68,262.48 L500.12,263.52 L500.55,264.55 L500.98,265.59 L501.42,266.63 L501.85,267.67 L502.29,268.71 L502.63,269.53M504.29,273.57 L504.45,273.96 L504.89,275.01 L505.32,276.07 L505.76,277.12 L506.19,278.18 L506.62,279.24 L507.06,280.30 L507.49,281.37 L507.92,282.43 L508.01,282.65M509.66,286.70 L510.09,287.77 L510.53,288.84 L510.96,289.91 L511.39,290.98 L511.83,292.05 L512.26,293.13 L512.69,294.20 L513.13,295.28 L513.34,295.81M514.98,299.88 L515.30,300.66 L515.73,301.74 L516.16,302.82 L516.60,303.90 L517.03,304.98 L517.47,306.06 L517.90,307.14 L518.33,308.22 L518.65,309.01M520.28,313.07 L520.50,313.61 L520.94,314.69 L521.37,315.77 L521.80,316.85 L522.24,317.93 L522.67,319.01 L523.10,320.09 L523.54,321.17 L523.96,322.20M525.59,326.26 L525.71,326.55 L526.14,327.62 L526.57,328.69 L527.01,329.77 L527.44,330.84 L527.88,331.91 L528.31,332.98 L528.74,334.05 L529.18,335.12 L529.28,335.38M530.93,339.43 L531.35,340.45 L531.78,341.51 L532.21,342.57 L532.65,343.63 L533.08,344.69 L533.51,345.75 L533.95,346.80 L534.38,347.85 L534.65,348.51M536.32,352.54 L536.55,353.10 L536.98,354.15 L537.42,355.19 L537.85,356.23 L538.29,357.27 L538.72,358.31 L539.15,359.35 L539.59,360.38 L540.02,361.42 L540.09,361.57M541.78,365.58 L542.19,366.55 L542.62,367.57 L543.06,368.59 L543.49,369.61 L543.92,370.62 L544.36,371.63 L544.79,372.64 L545.22,373.65 L545.61,374.55M547.34,378.52 L547.39,378.66 L547.83,379.65 L548.26,380.64 L548.69,381.63 L549.13,382.62 L549.56,383.60 L550.00,384.58 L550.43,385.56 L550.86,386.54 L551.25,387.41M553.01,391.34 L553.03,391.38 L553.47,392.34 L553.90,393.30 L554.33,394.26 L554.77,395.21 L555.20,396.16 L555.63,397.10 L556.07,398.05 L556.50,398.99 L556.94,399.93 L557.03,400.13M558.84,404.01 L559.10,404.57 L559.54,405.49 L559.97,406.41 L560.41,407.32 L560.84,408.23 L561.27,409.14 L561.71,410.04 L562.14,410.95 L562.57,411.84 L562.98,412.68M564.85,416.51 L565.18,417.17 L565.61,418.04 L566.04,418.92 L566.48,419.78 L566.91,420.65 L567.35,421.51 L567.78,422.37 L568.21,423.23 L568.65,424.08 L569.08,424.93 L569.13,425.03M571.07,428.79 L571.25,429.13 L571.68,429.96 L572.12,430.78 L572.55,431.60 L572.98,432.42 L573.42,433.24 L573.85,434.05 L574.29,434.86 L574.72,435.66 L575.15,436.46 L575.52,437.14M577.54,440.81 L577.75,441.19 L578.19,441.97 L578.62,442.74 L579.06,443.51 L579.49,444.28 L579.92,445.04 L580.36,445.80 L580.79,446.55 L581.22,447.31 L581.66,448.05 L582.09,448.80 L582.19,448.97M584.31,452.55 L584.69,453.19 L585.13,453.91 L585.56,454.62 L586.00,455.33 L586.43,456.04 L586.86,456.75 L587.30,457.45 L587.73,458.14 L588.16,458.84 L588.60,459.53 L589.03,460.21 L589.19,460.47M591.42,463.93 L591.63,464.25 L592.07,464.91 L592.50,465.57 L592.94,466.23 L593.37,466.88 L593.80,467.52 L594.24,468.16 L594.67,468.80 L595.10,469.44 L595.54,470.07 L595.97,470.70 L596.41,471.32 L596.58,471.58M598.95,474.91 L599.01,475.00 L599.44,475.60 L599.88,476.19 L600.31,476.79 L600.74,477.38 L601.18,477.96 L601.61,478.54 L602.04,479.12 L602.48,479.70 L602.91,480.27 L603.35,480.83 L603.78,481.40 L604.21,481.96 L604.42,482.23M606.95,485.41 L607.25,485.79 L607.68,486.32 L608.12,486.85 L608.55,487.38 L608.98,487.90 L609.42,488.42 L609.85,488.94 L610.28,489.45 L610.72,489.96 L611.15,490.46 L611.59,490.97 L612.02,491.46 L612.45,491.96 L612.80,492.36M615.50,495.35 L615.92,495.81 L616.36,496.27 L616.79,496.74 L617.22,497.19 L617.66,497.65 L618.09,498.10 L618.53,498.55 L618.96,499.00 L619.39,499.44 L619.83,499.88 L620.26,500.32 L620.69,500.76 L621.13,501.19 L621.56,501.61 L621.80,501.85M624.72,504.64 L625.03,504.93 L625.47,505.33 L625.90,505.72 L626.33,506.12 L626.77,506.51 L627.20,506.90 L627.63,507.28 L628.07,507.67 L628.50,508.04 L628.94,508.42 L629.37,508.80 L629.80,509.17 L630.24,509.53 L630.67,509.90 L631.10,510.26 L631.54,510.62M634.70,513.16 L635.01,513.39 L635.44,513.73 L635.88,514.06 L636.31,514.39 L636.74,514.72 L637.18,515.04 L637.61,515.36 L638.04,515.68 L638.48,516.00 L638.91,516.31 L639.35,516.62 L639.78,516.93 L640.21,517.23 L640.65,517.54 L641.08,517.84 L641.51,518.13 L641.95,518.43 L642.11,518.54M645.56,520.80 L645.85,520.98 L646.28,521.25 L646.72,521.52 L647.15,521.78 L647.59,522.05 L648.02,522.31 L648.45,522.57 L648.89,522.83 L649.32,523.08 L649.75,523.33 L650.19,523.58 L650.62,523.83 L651.06,524.08 L651.49,524.32 L651.92,524.56 L652.36,524.80 L652.79,525.04 L653.22,525.27 L653.65,525.50M657.42,527.44 L657.56,527.51 L658.00,527.72 L658.43,527.93 L658.86,528.14 L659.30,528.35 L659.73,528.55 L660.16,528.75 L660.60,528.95 L661.03,529.15 L661.47,529.35 L661.90,529.54 L662.33,529.74 L662.77,529.93 L663.20,530.12 L663.63,530.30 L664.07,530.49 L664.50,530.67 L664.94,530.86 L665.37,531.04 L665.80,531.21 L666.24,531.39 L666.26,531.40M670.37,532.99 L670.57,533.07 L671.01,533.22 L671.44,533.38 L671.88,533.54 L672.31,533.69 L672.74,533.84 L673.18,533.99 L673.61,534.14 L674.04,534.29 L674.48,534.44 L674.91,534.58 L675.34,534.72 L675.78,534.86 L676.21,535.00 L676.65,535.14 L677.08,535.28 L677.51,535.42 L677.95,535.55 L678.38,535.68 L678.81,535.82 L679.25,535.95 L679.68,536.07 L679.99,536.17M684.45,537.40 L684.45,537.40 L684.89,537.52 L685.32,537.63 L685.75,537.74 L686.19,537.85 L686.62,537.96 L687.06,538.07 L687.49,538.17 L687.92,538.28 L688.36,538.38 L688.79,538.48 L689.22,538.58 L689.66,538.69 L690.09,538.78 L690.53,538.88 L690.96,538.98 L691.39,539.08 L691.83,539.17 L692.26,539.26 L692.69,539.36 L693.13,539.45 L693.56,539.54 L694.00,539.63 L694.43,539.72 L694.85,539.80M699.65,540.71 L700.07,540.78 L700.50,540.86 L700.94,540.93 L701.37,541.01 L701.80,541.08 L702.24,541.15 L702.67,541.22 L703.10,541.29 L703.54,541.36 L703.97,541.43 L704.41,541.50 L704.84,541.57 L705.27,541.63 L705.71,541.70 L706.14,541.76 L706.57,541.83 L707.01,541.89 L707.44,541.95 L707.87,542.01 L708.31,542.07 L708.74,542.13 L709.18,542.19 L709.61,542.25 L710.04,542.31 L710.48,542.37 L710.75,542.40M715.84,543.02 L716.12,543.05 L716.55,543.10 L716.98,543.15 L717.42,543.19 L717.85,543.24 L718.28,543.29 L718.72,543.33 L719.15,543.38 L719.59,543.42 L720.02,543.46 L720.45,543.51 L720.89,543.55 L721.32,543.59 L721.75,543.63 L722.19,543.67 L722.62,543.71 L723.06,543.75 L723.49,543.79 L723.92,543.83 L724.36,543.87 L724.79,543.91 L725.22,543.94 L725.66,543.98 L726.09,544.02 L726.53,544.05 L726.96,544.09 L727.39,544.12 L727.52,544.13M732.83,544.52 L733.03,544.54 L733.47,544.57 L733.90,544.59 L734.33,544.62 L734.77,544.65 L735.20,544.68 L735.63,544.71 L736.07,544.73 L736.50,544.76 L736.94,544.78 L737.37,544.81 L737.80,544.84 L738.24,544.86 L738.67,544.88 L739.10,544.91 L739.54,544.93 L739.97,544.96 L740.40,544.98 L740.84,545.00 L741.27,545.03 L741.71,545.05 L742.14,545.07 L742.57,545.09 L743.01,545.11 L743.44,545.13 L743.87,545.15 L744.31,545.18 L744.74,545.20 L744.95,545.21M750.42,545.44 L750.81,545.45 L751.25,545.47 L751.68,545.48 L752.12,545.50 L752.55,545.52 L752.98,545.53 L753.42,545.55 L753.85,545.56 L754.28,545.58 L754.72,545.59 L755.15,545.60 L755.59,545.62 L756.02,545.63 L756.45,545.65 L756.89,545.66 L757.32,545.67 L757.75,545.69 L758.19,545.70 L758.62,545.71 L759.06,545.72 L759.49,545.74 L759.92,545.75 L760.36,545.76 L760.79,545.77 L761.22,545.78 L761.66,545.80 L762.09,545.81 L762.53,545.82 L762.83,545.83M768.40,545.95 L768.60,545.96 L769.03,545.97 L769.47,545.98 L769.90,545.99 L770.33,545.99 L770.77,546.00 L771.20,546.01" fill="none" stroke="#ff0000" stroke-width="2.8" stroke-linejoin="round"/><path d="M120.60,544.87 L121.01,544.84 L121.43,544.81 L121.84,544.79 L122.25,544.76 L122.66,544.73 L123.08,544.70 L123.49,544.67 L123.90,544.64 L124.32,544.61 L124.73,544.58 L125.14,544.55 L125.56,544.52 L125.97,544.49 L126.38,544.46 L126.76,544.43M129.26,544.22 L129.27,544.22 L129.68,544.19 L130.10,544.15 L130.51,544.11 L130.92,544.08 L131.34,544.04 L131.75,544.00 L132.16,543.96 L132.58,543.92 L132.99,543.88 L133.40,543.84 L133.81,543.80 L134.23,543.76 L134.64,543.72 L135.05,543.67 L135.28,543.65M137.72,543.38 L137.94,543.36 L138.36,543.31 L138.77,543.26 L139.18,543.21 L139.59,543.16 L140.01,543.11 L140.42,543.06 L140.83,543.01 L141.25,542.96 L141.66,542.90 L142.07,542.85 L142.49,542.79 L142.90,542.74 L143.31,542.68 L143.58,542.65M145.94,542.31 L146.20,542.27 L146.61,542.20 L147.03,542.14 L147.44,542.08 L147.85,542.01 L148.27,541.95 L148.68,541.88 L149.09,541.81 L149.51,541.74 L149.92,541.68 L150.33,541.61 L150.74,541.53 L151.16,541.46 L151.57,541.39 L151.61,541.38M153.89,540.96 L154.05,540.93 L154.46,540.85 L154.87,540.77 L155.29,540.69 L155.70,540.61 L156.11,540.52 L156.53,540.44 L156.94,540.35 L157.35,540.27 L157.76,540.18 L158.18,540.09 L158.59,540.00 L159.00,539.91 L159.36,539.83M161.55,539.32 L161.89,539.24 L162.31,539.14 L162.72,539.04 L163.13,538.93 L163.55,538.83 L163.96,538.72 L164.37,538.62 L164.78,538.51 L165.20,538.40 L165.61,538.29 L166.02,538.18 L166.44,538.06 L166.80,537.96M168.89,537.36 L168.91,537.35 L169.33,537.23 L169.74,537.11 L170.15,536.98 L170.56,536.85 L170.98,536.72 L171.39,536.59 L171.80,536.46 L172.22,536.33 L172.63,536.19 L173.04,536.06 L173.46,535.92 L173.87,535.78 L173.90,535.77M175.90,535.07 L175.93,535.06 L176.35,534.91 L176.76,534.76 L177.17,534.61 L177.58,534.45 L178.00,534.29 L178.41,534.14 L178.82,533.98 L179.24,533.82 L179.65,533.65 L180.06,533.49 L180.48,533.32 L180.67,533.24M182.58,532.44 L182.95,532.28 L183.37,532.10 L183.78,531.92 L184.19,531.74 L184.60,531.55 L185.02,531.36 L185.43,531.17 L185.84,530.98 L186.26,530.79 L186.67,530.59 L187.08,530.39 L187.11,530.38M188.92,529.49 L189.15,529.37 L189.56,529.16 L189.97,528.95 L190.39,528.73 L190.80,528.52 L191.21,528.30 L191.62,528.08 L192.04,527.85 L192.45,527.63 L192.86,527.40 L193.23,527.19M194.94,526.21 L195.34,525.98 L195.75,525.73 L196.17,525.48 L196.58,525.23 L196.99,524.98 L197.41,524.73 L197.82,524.47 L198.23,524.21 L198.64,523.95 L199.03,523.70M200.66,522.63 L200.71,522.59 L201.12,522.32 L201.53,522.04 L201.95,521.75 L202.36,521.47 L202.77,521.18 L203.19,520.88 L203.60,520.59 L204.01,520.29 L204.43,519.99 L204.54,519.91M206.09,518.76 L206.49,518.45 L206.90,518.13 L207.32,517.81 L207.73,517.49 L208.14,517.16 L208.55,516.83 L208.97,516.50 L209.38,516.17 L209.78,515.84M211.25,514.61 L211.45,514.44 L211.86,514.09 L212.27,513.73 L212.68,513.37 L213.10,513.01 L213.51,512.64 L213.92,512.27 L214.34,511.90 L214.75,511.53 L214.75,511.52M216.15,510.22 L216.40,509.99 L216.81,509.60 L217.23,509.20 L217.64,508.80 L218.05,508.40 L218.47,507.99 L218.88,507.58 L219.29,507.17 L219.50,506.96M220.83,505.60 L220.94,505.49 L221.36,505.05 L221.77,504.62 L222.18,504.18 L222.59,503.74 L223.01,503.30 L223.42,502.85 L223.83,502.40 L224.02,502.19M225.30,500.77 L225.49,500.55 L225.90,500.08 L226.31,499.61 L226.72,499.13 L227.14,498.65 L227.55,498.17 L227.96,497.68 L228.35,497.22M229.57,495.74 L229.61,495.68 L230.03,495.17 L230.44,494.66 L230.85,494.15 L231.27,493.63 L231.68,493.10 L232.09,492.58 L232.49,492.06M233.66,490.53 L233.74,490.42 L234.16,489.88 L234.57,489.33 L234.98,488.77 L235.40,488.21 L235.81,487.65 L236.22,487.08 L236.47,486.74M237.59,485.16 L237.87,484.77 L238.29,484.18 L238.70,483.59 L239.11,482.99 L239.52,482.39 L239.94,481.78 L240.29,481.26M241.38,479.64 L241.59,479.32 L242.00,478.69 L242.42,478.06 L242.83,477.43 L243.24,476.79 L243.65,476.15 L243.98,475.64M245.02,473.99 L245.31,473.53 L245.72,472.87 L246.13,472.20 L246.54,471.52 L246.96,470.85 L247.37,470.16 L247.53,469.90M248.54,468.21 L248.61,468.09 L249.02,467.39 L249.44,466.69 L249.85,465.98 L250.26,465.27 L250.67,464.55 L250.97,464.04M251.95,462.31 L252.33,461.64 L252.74,460.90 L253.15,460.15 L253.56,459.41 L253.98,458.65 L254.30,458.07M255.25,456.31 L255.63,455.60 L256.04,454.82 L256.46,454.04 L256.87,453.26 L257.28,452.47 L257.53,452.00M258.45,450.22 L258.52,450.08 L258.93,449.27 L259.35,448.46 L259.76,447.65 L260.17,446.83 L260.58,446.00 L260.67,445.84M261.56,444.03 L261.82,443.50 L262.24,442.66 L262.65,441.82 L263.06,440.96 L263.47,440.11 L263.72,439.59M264.60,437.76 L264.71,437.52 L265.13,436.64 L265.54,435.77 L265.95,434.88 L266.37,434.00 L266.70,433.27M267.55,431.42 L267.60,431.31 L268.02,430.41 L268.43,429.50 L268.84,428.59 L269.26,427.67 L269.61,426.88M270.44,425.01 L270.49,424.89 L270.91,423.96 L271.32,423.02 L271.73,422.08 L272.15,421.13 L272.45,420.42M273.27,418.54 L273.39,418.26 L273.80,417.30 L274.21,416.33 L274.62,415.36 L275.04,414.38 L275.24,413.90M276.04,412.00 L276.28,411.43 L276.69,410.43 L277.10,409.43 L277.51,408.43 L277.93,407.43 L277.97,407.33M278.75,405.42 L278.75,405.40 L279.17,404.38 L279.58,403.36 L279.99,402.34 L280.41,401.31 L280.64,400.71M281.41,398.78 L281.64,398.19 L282.06,397.14 L282.47,396.09 L282.88,395.04 L283.27,394.04M284.03,392.10 L284.12,391.86 L284.53,390.79 L284.95,389.72 L285.36,388.64 L285.77,387.56 L285.86,387.33M286.60,385.37 L287.01,384.30 L287.43,383.20 L287.84,382.10 L288.25,381.00 L288.41,380.58M289.14,378.61 L289.49,377.67 L289.90,376.56 L290.32,375.44 L290.73,374.32 L290.92,373.79M291.65,371.81 L291.97,370.93 L292.38,369.79 L292.79,368.66 L293.21,367.51 L293.40,366.97M294.12,364.98 L294.44,364.07 L294.86,362.91 L295.27,361.76 L295.68,360.59 L295.85,360.12M296.56,358.13 L296.92,357.10 L297.34,355.92 L297.75,354.75 L298.16,353.57 L298.28,353.24M298.97,351.24 L298.99,351.21 L299.40,350.02 L299.81,348.83 L300.23,347.64 L300.64,346.45 L300.68,346.34M301.37,344.33 L301.46,344.05 L301.88,342.85 L302.29,341.65 L302.70,340.44 L303.05,339.42M303.74,337.41 L303.94,336.81 L304.36,335.60 L304.77,334.38 L305.18,333.16 L305.41,332.48M306.09,330.46 L306.42,329.49 L306.83,328.27 L307.25,327.04 L307.66,325.81 L307.75,325.52M308.43,323.50 L308.48,323.34 L308.90,322.11 L309.31,320.87 L309.72,319.63 L310.08,318.55M310.76,316.52 L310.96,315.91 L311.38,314.66 L311.79,313.42 L312.20,312.17 L312.40,311.57M313.07,309.54 L313.44,308.42 L313.85,307.17 L314.27,305.92 L314.68,304.67 L314.71,304.58M315.38,302.54 L315.50,302.16 L315.92,300.90 L316.33,299.65 L316.74,298.39 L317.01,297.58M317.68,295.54 L317.98,294.61 L318.40,293.35 L318.81,292.09 L319.22,290.83 L319.31,290.57M319.97,288.54 L320.05,288.31 L320.46,287.05 L320.87,285.79 L321.29,284.53 L321.60,283.57M322.27,281.53 L322.52,280.75 L322.94,279.49 L323.35,278.23 L323.76,276.97 L323.90,276.56M324.56,274.53 L324.59,274.45 L325.00,273.19 L325.41,271.93 L325.83,270.68 L326.19,269.56M326.86,267.53 L327.07,266.91 L327.48,265.65 L327.89,264.40 L328.31,263.15 L328.50,262.56M329.17,260.53 L329.54,259.39 L329.96,258.15 L330.37,256.90 L330.78,255.65 L330.81,255.58M331.48,253.55 L331.61,253.17 L332.02,251.93 L332.43,250.69 L332.85,249.45 L333.13,248.60M333.81,246.58 L334.09,245.75 L334.50,244.52 L334.91,243.29 L335.33,242.06 L335.47,241.64M336.15,239.62 L336.15,239.62 L336.56,238.40 L336.98,237.18 L337.39,235.96 L337.80,234.75 L337.82,234.69M338.51,232.68 L338.63,232.33 L339.04,231.13 L339.45,229.93 L339.87,228.73 L340.20,227.77M340.89,225.76 L341.11,225.15 L341.52,223.96 L341.93,222.78 L342.35,221.59 L342.60,220.87M343.30,218.87 L343.58,218.07 L344.00,216.90 L344.41,215.74 L344.82,214.58 L345.03,214.00M345.74,212.01 L346.06,211.12 L346.47,209.97 L346.89,208.83 L347.30,207.69 L347.49,207.16M348.22,205.18 L348.54,204.30 L348.95,203.18 L349.37,202.07 L349.78,200.95 L350.00,200.36M350.73,198.40 L351.02,197.64 L351.43,196.55 L351.84,195.46 L352.26,194.38 L352.55,193.61M353.30,191.66 L353.49,191.15 L353.91,190.09 L354.32,189.03 L354.73,187.97 L355.15,186.92 L355.15,186.92M355.91,184.98 L355.97,184.84 L356.38,183.80 L356.80,182.78 L357.21,181.75 L357.62,180.74 L357.81,180.28M358.60,178.36 L358.86,177.72 L359.28,176.73 L359.69,175.74 L360.10,174.76 L360.51,173.78 L360.54,173.71M361.35,171.82 L361.75,170.89 L362.17,169.94 L362.58,168.99 L362.99,168.06 L363.36,167.23M364.19,165.36 L364.23,165.28 L364.64,164.37 L365.06,163.46 L365.47,162.56 L365.88,161.67 L366.27,160.84M367.14,159.00 L367.53,158.17 L367.95,157.32 L368.36,156.47 L368.77,155.63 L369.19,154.79 L369.30,154.57M370.20,152.77 L370.42,152.33 L370.84,151.52 L371.25,150.73 L371.66,149.93 L372.08,149.15 L372.46,148.43M373.41,146.68 L373.73,146.10 L374.14,145.35 L374.55,144.62 L374.97,143.89 L375.38,143.17 L375.79,142.46M376.80,140.76 L377.03,140.37 L377.44,139.69 L377.86,139.02 L378.27,138.36 L378.68,137.70 L379.10,137.06 L379.33,136.70M380.40,135.07 L380.75,134.56 L381.16,133.96 L381.57,133.36 L381.99,132.78 L382.40,132.20 L382.81,131.64 L383.13,131.20M384.30,129.67 L384.46,129.45 L384.88,128.93 L385.29,128.42 L385.70,127.91 L386.12,127.42 L386.53,126.93 L386.94,126.45 L387.29,126.06M388.58,124.65 L388.59,124.63 L389.01,124.20 L389.42,123.78 L389.83,123.37 L390.25,122.97 L390.66,122.57 L391.07,122.19 L391.48,121.81 L391.90,121.45 L391.94,121.41M393.42,120.19 L393.55,120.08 L393.96,119.77 L394.37,119.46 L394.79,119.16 L395.20,118.87 L395.61,118.60 L396.03,118.33 L396.44,118.07 L396.85,117.82 L397.27,117.58 L397.36,117.53M399.15,116.62 L399.33,116.53 L399.74,116.35 L400.16,116.18 L400.57,116.02 L400.98,115.87 L401.39,115.73 L401.81,115.60 L402.22,115.48 L402.63,115.37 L403.05,115.27 L403.46,115.18 L403.87,115.10 L404.18,115.05M406.65,114.82 L406.76,114.82 L407.18,114.82 L407.59,114.83 L408.00,114.85 L408.41,114.87 L408.83,114.91 L409.24,114.96 L409.65,115.02 L410.07,115.09 L410.48,115.17 L410.89,115.26 L411.31,115.36 L411.72,115.47 L412.13,115.59 L412.39,115.67M414.36,116.41 L414.61,116.52 L415.02,116.71 L415.43,116.90 L415.85,117.11 L416.26,117.33 L416.67,117.56 L417.09,117.80 L417.50,118.05 L417.91,118.30 L418.32,118.57 L418.61,118.76M420.17,119.89 L420.39,120.06 L420.80,120.38 L421.22,120.72 L421.63,121.06 L422.04,121.42 L422.45,121.78 L422.87,122.15 L423.28,122.54 L423.69,122.93 L423.71,122.95M425.06,124.30 L425.34,124.59 L425.76,125.03 L426.17,125.48 L426.58,125.94 L427.00,126.41 L427.41,126.89 L427.82,127.37 L428.17,127.79M429.38,129.29 L429.47,129.41 L429.89,129.94 L430.30,130.48 L430.71,131.03 L431.13,131.58 L431.54,132.15 L431.95,132.73 L432.19,133.07M433.30,134.67 L433.60,135.12 L434.02,135.74 L434.43,136.36 L434.84,137.00 L435.26,137.65 L435.67,138.30 L435.90,138.67M436.93,140.34 L437.32,141.00 L437.73,141.69 L438.15,142.39 L438.56,143.10 L438.97,143.82 L439.36,144.51M440.33,146.24 L440.62,146.78 L441.04,147.54 L441.45,148.31 L441.86,149.08 L442.28,149.86 L442.63,150.54M443.55,152.32 L443.93,153.07 L444.34,153.89 L444.75,154.72 L445.17,155.55 L445.58,156.39 L445.74,156.72M446.62,158.55 L446.82,158.96 L447.23,159.83 L447.64,160.71 L448.06,161.59 L448.47,162.48 L448.72,163.04M449.57,164.89 L449.71,165.20 L450.12,166.12 L450.53,167.04 L450.95,167.97 L451.36,168.91 L451.60,169.46M452.42,171.35 L452.60,171.76 L453.01,172.72 L453.42,173.69 L453.84,174.67 L454.25,175.65 L454.39,175.98M455.18,177.88 L455.49,178.63 L455.90,179.63 L456.31,180.65 L456.73,181.66 L457.09,182.57M457.87,184.50 L457.97,184.74 L458.38,185.78 L458.79,186.83 L459.21,187.88 L459.62,188.93 L459.74,189.23M460.49,191.17 L460.86,192.12 L461.27,193.20 L461.68,194.28 L462.10,195.36 L462.32,195.95M463.06,197.91 L463.33,198.64 L463.75,199.75 L464.16,200.85 L464.57,201.97 L464.85,202.71M465.58,204.69 L465.81,205.33 L466.23,206.46 L466.64,207.59 L467.05,208.73 L467.34,209.53M468.05,211.51 L468.29,212.16 L468.70,213.32 L469.12,214.47 L469.53,215.63 L469.79,216.37M470.50,218.37 L470.77,219.14 L471.18,220.31 L471.59,221.49 L472.01,222.67 L472.21,223.25M472.91,225.26 L473.25,226.23 L473.66,227.42 L474.07,228.62 L474.48,229.82 L474.60,230.16M475.29,232.17 L475.31,232.23 L475.72,233.43 L476.14,234.64 L476.55,235.85 L476.96,237.07 L476.97,237.09M477.65,239.11 L477.79,239.51 L478.20,240.73 L478.61,241.95 L479.03,243.18 L479.32,244.05M480.00,246.07 L480.26,246.87 L480.68,248.10 L481.09,249.34 L481.50,250.58 L481.65,251.02M482.32,253.04 L482.33,253.06 L482.74,254.30 L483.16,255.54 L483.57,256.79 L483.97,258.00M484.64,260.03 L484.81,260.53 L485.22,261.78 L485.63,263.03 L486.05,264.29 L486.28,264.99M486.95,267.02 L487.28,268.05 L487.70,269.31 L488.11,270.56 L488.52,271.82 L488.58,271.99M489.25,274.02 L489.35,274.34 L489.76,275.60 L490.18,276.85 L490.59,278.11 L490.88,278.99M491.54,281.02 L491.83,281.90 L492.24,283.16 L492.65,284.42 L493.07,285.68 L493.17,286.00M493.84,288.03 L493.89,288.20 L494.30,289.46 L494.72,290.72 L495.13,291.98 L495.46,293.00M496.13,295.03 L496.37,295.76 L496.78,297.02 L497.20,298.28 L497.61,299.53 L497.76,300.00M498.43,302.03 L498.43,302.05 L498.85,303.30 L499.26,304.55 L499.67,305.81 L500.07,307.00M500.74,309.03 L500.91,309.56 L501.32,310.81 L501.74,312.06 L502.15,313.31 L502.38,313.99M503.05,316.02 L503.39,317.04 L503.80,318.28 L504.22,319.52 L504.63,320.76 L504.70,320.97M505.37,322.99 L505.45,323.23 L505.87,324.47 L506.28,325.70 L506.69,326.93 L507.03,327.93M507.71,329.95 L507.93,330.61 L508.34,331.83 L508.76,333.05 L509.17,334.27 L509.38,334.89M510.06,336.90 L510.41,337.92 L510.82,339.13 L511.23,340.33 L511.65,341.54 L511.74,341.82M512.43,343.83 L512.47,343.94 L512.89,345.14 L513.30,346.34 L513.71,347.53 L514.13,348.73 L514.13,348.74M514.83,350.74 L514.95,351.10 L515.36,352.28 L515.78,353.46 L516.19,354.64 L516.54,355.63M517.24,357.62 L517.43,358.16 L517.84,359.33 L518.25,360.49 L518.67,361.65 L518.97,362.50M519.68,364.48 L519.91,365.12 L520.32,366.26 L520.73,367.41 L521.15,368.55 L521.43,369.34M522.15,371.32 L522.38,371.96 L522.80,373.09 L523.21,374.22 L523.62,375.34 L523.92,376.14M524.65,378.12 L524.86,378.69 L525.27,379.80 L525.69,380.90 L526.10,382.00 L526.44,382.92M527.18,384.88 L527.34,385.29 L527.75,386.38 L528.17,387.46 L528.58,388.54 L528.99,389.62 L529.01,389.66M529.76,391.61 L529.82,391.76 L530.23,392.83 L530.64,393.89 L531.06,394.95 L531.47,396.00 L531.61,396.36M532.37,398.29 L532.71,399.14 L533.12,400.18 L533.53,401.21 L533.95,402.24 L534.26,403.01M535.03,404.93 L535.19,405.31 L535.60,406.32 L536.01,407.34 L536.42,408.34 L536.84,409.34 L536.95,409.62M537.74,411.52 L538.08,412.33 L538.49,413.31 L538.90,414.29 L539.31,415.27 L539.70,416.17M540.50,418.06 L540.55,418.18 L540.97,419.14 L541.38,420.09 L541.79,421.05 L542.20,421.99 L542.50,422.67M543.32,424.54 L543.44,424.81 L543.86,425.74 L544.27,426.67 L544.68,427.59 L545.10,428.51 L545.36,429.10M546.21,430.96 L546.33,431.23 L546.75,432.13 L547.16,433.03 L547.57,433.92 L547.99,434.81 L548.30,435.47M549.16,437.30 L549.22,437.44 L549.64,438.31 L550.05,439.17 L550.46,440.03 L550.88,440.89 L551.29,441.74 L551.30,441.76M552.19,443.58 L552.53,444.27 L552.94,445.10 L553.35,445.93 L553.77,446.75 L554.18,447.57 L554.39,447.98M555.30,449.77 L555.42,450.01 L555.83,450.81 L556.24,451.61 L556.66,452.40 L557.07,453.19 L557.48,453.97 L557.56,454.11M558.49,455.87 L558.72,456.30 L559.14,457.06 L559.55,457.83 L559.96,458.58 L560.37,459.34 L560.79,460.09 L560.82,460.15M561.79,461.88 L562.03,462.31 L562.44,463.04 L562.85,463.76 L563.26,464.48 L563.68,465.20 L564.09,465.92 L564.19,466.08M565.18,467.78 L565.33,468.03 L565.74,468.72 L566.16,469.42 L566.57,470.10 L566.98,470.78 L567.39,471.46 L567.66,471.90M568.69,473.57 L569.05,474.13 L569.46,474.79 L569.87,475.44 L570.28,476.09 L570.70,476.73 L571.11,477.37 L571.26,477.60M572.33,479.24 L572.35,479.26 L572.76,479.89 L573.17,480.50 L573.59,481.12 L574.00,481.73 L574.41,482.33 L574.83,482.93 L574.99,483.17M576.10,484.76 L576.48,485.30 L576.89,485.88 L577.30,486.45 L577.72,487.03 L578.13,487.60 L578.54,488.16 L578.87,488.60M580.02,490.14 L580.19,490.38 L580.61,490.92 L581.02,491.46 L581.43,492.00 L581.85,492.53 L582.26,493.06 L582.67,493.58 L582.90,493.87M584.10,495.36 L584.32,495.64 L584.74,496.14 L585.15,496.64 L585.56,497.14 L585.98,497.63 L586.39,498.12 L586.80,498.61 L587.10,498.96M588.36,500.41 L588.45,500.51 L588.87,500.98 L589.28,501.44 L589.69,501.90 L590.11,502.36 L590.52,502.81 L590.93,503.26 L591.34,503.70 L591.50,503.87M592.81,505.25 L593.00,505.45 L593.41,505.87 L593.82,506.30 L594.23,506.72 L594.65,507.13 L595.06,507.55 L595.47,507.96 L595.89,508.36 L596.10,508.57M597.47,509.89 L597.54,509.95 L597.95,510.34 L598.36,510.73 L598.78,511.11 L599.19,511.49 L599.60,511.87 L600.02,512.24 L600.43,512.61 L600.84,512.98 L600.92,513.05M602.36,514.30 L602.49,514.41 L602.91,514.76 L603.32,515.11 L603.73,515.46 L604.14,515.80 L604.56,516.14 L604.97,516.47 L605.38,516.80 L605.80,517.13 L605.98,517.28M607.50,518.46 L607.86,518.73 L608.27,519.05 L608.69,519.36 L609.10,519.66 L609.51,519.96 L609.93,520.27 L610.34,520.56 L610.75,520.86 L611.16,521.15 L611.31,521.25M612.91,522.35 L613.23,522.57 L613.64,522.85 L614.06,523.12 L614.47,523.39 L614.88,523.66 L615.29,523.92 L615.71,524.19 L616.12,524.45 L616.53,524.70 L616.92,524.94M618.61,525.96 L619.01,526.20 L619.42,526.44 L619.84,526.68 L620.25,526.91 L620.66,527.15 L621.08,527.38 L621.49,527.61 L621.90,527.83 L622.31,528.06 L622.73,528.28 L622.83,528.33M624.61,529.26 L624.79,529.35 L625.20,529.56 L625.62,529.77 L626.03,529.97 L626.44,530.18 L626.86,530.38 L627.27,530.57 L627.68,530.77 L628.10,530.96 L628.51,531.16 L628.92,531.35 L629.06,531.41M630.93,532.24 L630.99,532.27 L631.40,532.44 L631.81,532.62 L632.22,532.79 L632.64,532.97 L633.05,533.14 L633.46,533.31 L633.88,533.47 L634.29,533.64 L634.70,533.80 L635.11,533.96 L635.53,534.12 L635.61,534.15M637.58,534.89 L637.59,534.90 L638.01,535.04 L638.42,535.19 L638.83,535.34 L639.24,535.48 L639.66,535.63 L640.07,535.77 L640.48,535.91 L640.90,536.05 L641.31,536.18 L641.72,536.32 L642.13,536.45 L642.50,536.57M644.56,537.20 L644.61,537.22 L645.03,537.34 L645.44,537.46 L645.85,537.58 L646.26,537.70 L646.68,537.82 L647.09,537.94 L647.50,538.05 L647.92,538.17 L648.33,538.28 L648.74,538.39 L649.15,538.50 L649.57,538.61 L649.72,538.65M651.88,539.19 L652.05,539.23 L652.46,539.33 L652.87,539.43 L653.28,539.52 L653.70,539.62 L654.11,539.71 L654.52,539.81 L654.94,539.90 L655.35,539.99 L655.76,540.08 L656.17,540.17 L656.59,540.26 L657.00,540.35 L657.26,540.40M659.51,540.85 L659.89,540.93 L660.30,541.00 L660.72,541.08 L661.13,541.16 L661.54,541.23 L661.96,541.31 L662.37,541.38 L662.78,541.46 L663.19,541.53 L663.61,541.60 L664.02,541.67 L664.43,541.74 L664.85,541.81 L665.11,541.85M667.45,542.22 L667.74,542.26 L668.15,542.32 L668.56,542.38 L668.98,542.44 L669.39,542.50 L669.80,542.56 L670.21,542.62 L670.63,542.68 L671.04,542.73 L671.45,542.79 L671.87,542.84 L672.28,542.90 L672.69,542.95 L673.10,543.00 L673.24,543.02M675.65,543.31 L676.00,543.35 L676.41,543.40 L676.82,543.45 L677.23,543.49 L677.65,543.54 L678.06,543.58 L678.47,543.63 L678.89,543.67 L679.30,543.71 L679.71,543.76 L680.12,543.80 L680.54,543.84 L680.95,543.88 L681.36,543.92 L681.62,543.94M684.10,544.17 L684.25,544.18 L684.67,544.22 L685.08,544.26 L685.49,544.29 L685.91,544.32 L686.32,544.36 L686.73,544.39 L687.14,544.42 L687.56,544.46 L687.97,544.49 L688.38,544.52 L688.80,544.55 L689.21,544.58 L689.62,544.61 L690.04,544.64 L690.21,544.65M692.74,544.83 L692.93,544.84 L693.34,544.86 L693.75,544.89 L694.16,544.92 L694.58,544.94 L694.99,544.97 L695.40,544.99 L695.82,545.02 L696.23,545.04 L696.64,545.06 L697.05,545.09 L697.47,545.11 L697.88,545.13 L698.29,545.15 L698.71,545.18 L698.98,545.19M701.55,545.32 L701.60,545.32 L702.01,545.34 L702.42,545.36 L702.84,545.38 L703.25,545.40 L703.66,545.41 L704.07,545.43 L704.49,545.45 L704.90,545.47 L705.31,545.48 L705.73,545.50 L706.14,545.52 L706.55,545.53 L706.97,545.55 L707.38,545.57 L707.79,545.58 L707.88,545.59M710.49,545.68 L710.68,545.68 L711.09,545.70 L711.51,545.71 L711.92,545.73 L712.33,545.74 L712.75,545.75 L713.16,545.76 L713.57,545.78 L713.99,545.79 L714.40,545.80 L714.81,545.81 L715.22,545.83 L715.64,545.84 L716.05,545.85 L716.46,545.86 L716.88,545.87 L716.89,545.87M719.53,545.94 L719.77,545.94 L720.18,545.95 L720.59,545.96 L721.01,545.97 L721.42,545.98 L721.83,545.99 L722.24,546.00 L722.66,546.01 L723.07,546.02 L723.48,546.02 L723.90,546.03 L724.31,546.04 L724.72,546.05 L725.13,546.06 L725.55,546.07 L725.96,546.07 L725.99,546.07M728.64,546.12 L728.85,546.12 L729.26,546.13 L729.68,546.14 L730.09,546.14 L730.50,546.15 L730.92,546.16 L731.33,546.16 L731.74,546.17 L732.15,546.17 L732.57,546.18 L732.98,546.19 L733.39,546.19 L733.81,546.20 L734.22,546.20 L734.63,546.21 L735.04,546.21 L735.15,546.22M737.82,546.25 L737.94,546.25 L738.35,546.25 L738.76,546.26 L739.17,546.26 L739.59,546.27 L740.00,546.27" fill="none" stroke="#55c855" stroke-width="2.6" stroke-linejoin="round"/><path d="M120.60,546.03 L121.02,546.03 L121.44,546.02 L121.85,546.01 L122.27,546.00 L122.69,545.99 L123.11,545.98 L123.53,545.97 L123.95,545.96 L124.36,545.95 L124.78,545.94 L125.20,545.93 L125.62,545.92 L126.04,545.91 L126.46,545.90 L126.87,545.89 L127.29,545.88 L127.71,545.87 L128.13,545.86 L128.55,545.84 L128.97,545.83 L129.38,545.82 L129.80,545.81 L130.22,545.80 L130.64,545.78 L131.06,545.77 L131.47,545.76 L131.89,545.74 L132.31,545.73 L132.73,545.72 L133.15,545.70 L133.57,545.69 L133.98,545.67 L134.40,545.66 L134.82,545.65 L135.24,545.63 L135.66,545.62 L136.08,545.60 L136.49,545.58 L136.91,545.57 L137.33,545.55 L137.75,545.54 L138.17,545.52 L138.59,545.50 L139.00,545.48 L139.42,545.47 L139.84,545.45 L140.26,545.43 L140.68,545.41 L141.10,545.39 L141.44,545.38M145.92,545.15 L146.11,545.14 L146.53,545.12 L146.95,545.10 L147.37,545.07 L147.79,545.05 L148.21,545.03 L148.62,545.00 L149.04,544.98 L149.46,544.95 L149.88,544.92 L150.30,544.90 L150.72,544.87 L151.13,544.84 L151.55,544.82 L151.58,544.82M156.06,544.49 L156.15,544.49 L156.57,544.45 L156.99,544.42 L157.41,544.39 L157.83,544.35 L158.24,544.32 L158.66,544.28 L159.08,544.25 L159.50,544.21 L159.92,544.17 L160.34,544.13 L160.75,544.10 L161.17,544.06 L161.59,544.02 L162.01,543.98 L162.43,543.94 L162.84,543.90 L163.26,543.86 L163.68,543.82 L164.10,543.77 L164.52,543.73 L164.94,543.69 L165.35,543.64 L165.77,543.60 L166.19,543.55 L166.61,543.50 L167.03,543.46 L167.45,543.41 L167.86,543.36 L168.28,543.31 L168.70,543.26 L169.12,543.21 L169.54,543.16 L169.96,543.11 L170.37,543.06 L170.79,543.00 L171.21,542.95 L171.63,542.89 L172.05,542.84 L172.47,542.78 L172.88,542.73 L173.30,542.67 L173.72,542.61 L174.14,542.55 L174.56,542.49 L174.97,542.43 L175.39,542.37 L175.43,542.36M179.48,541.72 L179.58,541.70 L179.99,541.63 L180.41,541.56 L180.83,541.48 L181.25,541.41 L181.67,541.33 L182.09,541.26 L182.50,541.18 L182.92,541.10 L183.34,541.02 L183.76,540.94 L184.18,540.86 L184.55,540.78M188.51,539.95 L188.78,539.89 L189.20,539.79 L189.61,539.70 L190.03,539.60 L190.45,539.50 L190.87,539.40 L191.29,539.30 L191.71,539.20 L192.12,539.09 L192.54,538.99 L192.96,538.88 L193.38,538.77 L193.80,538.66 L194.21,538.55 L194.63,538.44 L195.05,538.33 L195.47,538.21 L195.89,538.10 L196.31,537.98 L196.72,537.86 L197.14,537.74 L197.56,537.62 L197.98,537.50 L198.40,537.37 L198.82,537.25 L199.23,537.12 L199.65,536.99 L200.07,536.86 L200.49,536.73 L200.91,536.59 L201.33,536.46 L201.74,536.32 L202.16,536.18 L202.58,536.04 L203.00,535.90 L203.42,535.76 L203.84,535.61 L204.25,535.47 L204.67,535.32 L205.09,535.17 L205.19,535.13M208.60,533.83 L208.85,533.73 L209.27,533.56 L209.69,533.39 L210.11,533.22 L210.53,533.05 L210.95,532.87 L211.36,532.69 L211.78,532.51 L212.20,532.33 L212.62,532.15 L212.82,532.06M216.10,530.53 L216.38,530.40 L216.80,530.19 L217.22,529.98 L217.64,529.77 L218.06,529.56 L218.47,529.35 L218.89,529.13 L219.31,528.91 L219.73,528.69 L220.15,528.47 L220.57,528.24 L220.98,528.01 L221.40,527.78 L221.82,527.55 L222.24,527.31 L222.66,527.07 L223.08,526.83 L223.49,526.59 L223.91,526.34 L224.33,526.10 L224.75,525.85 L225.17,525.59 L225.58,525.34 L226.00,525.08 L226.42,524.82 L226.84,524.55 L227.26,524.29 L227.68,524.02 L228.09,523.75 L228.51,523.47 L228.93,523.20 L229.35,522.92 L229.73,522.66M232.49,520.72 L232.70,520.57 L233.11,520.27 L233.53,519.96 L233.95,519.65 L234.37,519.33 L234.79,519.02 L235.21,518.70 L235.62,518.37 L235.91,518.15M238.57,516.00 L238.97,515.67 L239.39,515.32 L239.81,514.96 L240.22,514.60 L240.64,514.24 L241.06,513.88 L241.48,513.51 L241.90,513.14 L242.32,512.76 L242.73,512.38 L243.15,512.00 L243.57,511.62 L243.99,511.23 L244.41,510.83 L244.83,510.44 L245.24,510.04 L245.66,509.64 L246.08,509.23 L246.50,508.82 L246.92,508.41 L247.33,507.99 L247.75,507.57 L248.17,507.14 L248.59,506.72 L249.01,506.28 L249.43,505.85 L249.66,505.60M251.93,503.16 L251.94,503.16 L252.35,502.69 L252.77,502.23 L253.19,501.76 L253.61,501.29 L254.03,500.81 L254.45,500.33 L254.75,499.98M256.94,497.37 L256.95,497.36 L257.37,496.85 L257.79,496.33 L258.21,495.82 L258.63,495.30 L259.05,494.77 L259.46,494.24 L259.88,493.71 L260.30,493.17 L260.72,492.63 L261.14,492.08 L261.56,491.53 L261.97,490.98 L262.39,490.42 L262.81,489.85 L263.23,489.29 L263.65,488.72 L264.07,488.14 L264.48,487.56 L264.90,486.97 L265.32,486.39 L265.74,485.79 L266.16,485.19 L266.20,485.13M268.11,482.34 L268.25,482.14 L268.67,481.52 L269.08,480.89 L269.50,480.26 L269.92,479.62 L270.34,478.98 L270.50,478.73M272.37,475.80 L272.43,475.70 L272.85,475.03 L273.27,474.36 L273.69,473.68 L274.10,473.00 L274.52,472.31 L274.94,471.62 L275.36,470.92 L275.78,470.22 L276.20,469.51 L276.61,468.80 L277.03,468.09 L277.45,467.37 L277.87,466.64 L278.29,465.91 L278.70,465.18 L279.12,464.44 L279.54,463.70 L279.96,462.95 L280.34,462.27M282.00,459.23 L282.05,459.14 L282.47,458.36 L282.89,457.58 L283.31,456.80 L283.72,456.01 L284.09,455.32M285.73,452.16 L285.82,451.98 L286.23,451.17 L286.65,450.34 L287.07,449.51 L287.49,448.68 L287.91,447.84 L288.32,447.00 L288.74,446.15 L289.16,445.30 L289.58,444.44 L290.00,443.58 L290.42,442.72 L290.83,441.85 L291.25,440.97 L291.67,440.09 L292.09,439.20 L292.51,438.31 L292.79,437.72M294.27,434.51 L294.60,433.79 L295.02,432.88 L295.44,431.95 L295.85,431.03 L296.14,430.38M297.62,427.05 L297.95,426.32 L298.36,425.36 L298.78,424.40 L299.20,423.44 L299.62,422.47 L300.04,421.49 L300.45,420.52 L300.87,419.53 L301.29,418.54 L301.71,417.55 L302.13,416.56 L302.55,415.55 L302.96,414.55 L303.38,413.54 L303.80,412.52 L304.03,411.96M305.39,408.63 L305.47,408.42 L305.89,407.38 L306.31,406.34 L306.73,405.30 L307.11,404.34M308.47,400.90 L308.82,400.01 L309.24,398.93 L309.66,397.86 L310.07,396.78 L310.49,395.70 L310.91,394.61 L311.33,393.52 L311.75,392.42 L312.17,391.32 L312.58,390.22 L313.00,389.11 L313.42,388.00 L313.84,386.88 L314.26,385.76 L314.41,385.35M315.68,381.92 L315.93,381.24 L316.35,380.10 L316.77,378.96 L317.19,377.81 L317.29,377.52M318.57,374.00 L318.86,373.19 L319.28,372.02 L319.69,370.85 L320.11,369.68 L320.53,368.50 L320.95,367.32 L321.37,366.14 L321.79,364.96 L322.20,363.77 L322.62,362.57 L323.04,361.38 L323.46,360.18 L323.88,358.98 L324.18,358.11M325.38,354.62 L325.55,354.14 L325.97,352.92 L326.39,351.70 L326.81,350.47 L326.92,350.15M328.13,346.57 L328.48,345.55 L328.90,344.31 L329.32,343.07 L329.73,341.83 L330.15,340.58 L330.57,339.34 L330.99,338.09 L331.41,336.83 L331.82,335.58 L332.24,334.32 L332.66,333.06 L333.08,331.80 L333.50,330.53 L333.52,330.46M334.69,326.92 L334.75,326.73 L335.17,325.45 L335.59,324.18 L336.01,322.90 L336.17,322.40M337.35,318.79 L337.68,317.78 L338.10,316.49 L338.52,315.21 L338.94,313.92 L339.35,312.63 L339.77,311.34 L340.19,310.04 L340.61,308.75 L341.03,307.45 L341.44,306.16 L341.86,304.86 L342.28,303.56 L342.61,302.54M343.75,298.99 L343.95,298.36 L344.37,297.05 L344.79,295.75 L345.21,294.44 L345.21,294.44M346.37,290.81 L346.46,290.53 L346.88,289.22 L347.30,287.91 L347.72,286.61 L348.14,285.30 L348.56,283.99 L348.97,282.68 L349.39,281.37 L349.81,280.07 L350.23,278.76 L350.65,277.45 L351.06,276.14 L351.48,274.83 L351.58,274.52M352.72,270.96 L352.74,270.91 L353.16,269.61 L353.57,268.30 L353.99,267.00 L354.18,266.41M355.35,262.78 L355.67,261.79 L356.08,260.49 L356.50,259.19 L356.92,257.89 L357.34,256.60 L357.76,255.30 L358.18,254.01 L358.59,252.71 L359.01,251.42 L359.43,250.13 L359.85,248.85 L360.27,247.56 L360.60,246.53M361.76,242.99 L361.94,242.43 L362.36,241.15 L362.78,239.88 L363.19,238.61 L363.24,238.47M364.43,234.86 L364.45,234.80 L364.87,233.54 L365.29,232.28 L365.70,231.02 L366.12,229.77 L366.54,228.51 L366.96,227.26 L367.38,226.02 L367.80,224.77 L368.21,223.53 L368.63,222.29 L369.05,221.06 L369.47,219.83 L369.83,218.77M371.03,215.26 L371.14,214.94 L371.56,213.72 L371.98,212.51 L372.40,211.31 L372.57,210.81M373.81,207.25 L374.07,206.52 L374.49,205.33 L374.91,204.15 L375.32,202.97 L375.74,201.80 L376.16,200.63 L376.58,199.47 L377.00,198.31 L377.42,197.15 L377.83,196.00 L378.25,194.85 L378.67,193.71 L379.09,192.58 L379.51,191.45 L379.51,191.44M380.79,188.02 L381.18,186.97 L381.60,185.87 L382.02,184.77 L382.43,183.67 L382.44,183.67M383.77,180.21 L384.11,179.35 L384.53,178.29 L384.94,177.23 L385.36,176.17 L385.78,175.12 L386.20,174.08 L386.62,173.05 L387.04,172.02 L387.45,170.99 L387.87,169.98 L388.29,168.97 L388.71,167.96 L389.13,166.97 L389.55,165.97 L389.96,164.99 L389.99,164.93M391.41,161.64 L391.64,161.12 L392.06,160.17 L392.47,159.23 L392.89,158.30 L393.26,157.49M394.77,154.20 L394.98,153.73 L395.40,152.84 L395.82,151.96 L396.24,151.08 L396.66,150.21 L397.07,149.35 L397.49,148.50 L397.91,147.66 L398.33,146.82 L398.75,145.99 L399.17,145.17 L399.58,144.36 L400.00,143.56 L400.42,142.76 L400.84,141.97 L401.26,141.19 L401.68,140.42 L401.96,139.90M403.66,136.89 L403.77,136.70 L404.18,135.98 L404.60,135.27 L405.02,134.57 L405.44,133.87 L405.86,133.19 L405.90,133.13M407.76,130.19 L407.95,129.91 L408.37,129.28 L408.79,128.66 L409.20,128.04 L409.62,127.44 L410.04,126.85 L410.46,126.27 L410.88,125.69 L411.30,125.13 L411.71,124.58 L412.13,124.03 L412.55,123.50 L412.97,122.97 L413.39,122.45 L413.80,121.95 L414.22,121.45 L414.64,120.97 L415.06,120.49 L415.48,120.02 L415.90,119.56 L416.31,119.12 L416.73,118.68 L417.15,118.25 L417.23,118.17M419.66,115.90 L420.08,115.54 L420.50,115.20 L420.92,114.86 L421.33,114.54 L421.75,114.22 L422.17,113.92 L422.59,113.62 L423.01,113.34 L423.06,113.30M426.12,111.55 L426.35,111.44 L426.77,111.24 L427.19,111.07 L427.61,110.90 L428.03,110.74 L428.44,110.59 L428.86,110.45 L429.28,110.32 L429.70,110.21 L430.12,110.10 L430.54,110.01 L430.95,109.92 L431.37,109.85 L431.79,109.78 L432.21,109.73 L432.63,109.69 L433.05,109.66 L433.46,109.64 L433.88,109.63 L434.30,109.63 L434.72,109.64 L435.14,109.66 L435.55,109.69 L435.97,109.74 L436.39,109.79 L436.81,109.85 L437.23,109.93 L437.65,110.01 L438.06,110.11 L438.48,110.22 L438.90,110.33 L439.32,110.46 L439.74,110.60 L440.16,110.75 L440.57,110.91 L440.99,111.08 L441.41,111.26 L441.83,111.45 L442.25,111.65 L442.67,111.87 L443.08,112.09 L443.18,112.14M446.05,113.97 L446.43,114.25 L446.85,114.56 L447.27,114.89 L447.68,115.23 L448.10,115.57 L448.52,115.93 L448.94,116.30 L449.35,116.67M451.77,119.05 L451.87,119.15 L452.29,119.60 L452.70,120.06 L453.12,120.53 L453.54,121.01 L453.96,121.49 L454.38,121.99 L454.80,122.50 L455.21,123.01 L455.63,123.54 L456.05,124.08 L456.47,124.62 L456.89,125.18 L457.30,125.74 L457.72,126.32 L458.14,126.90 L458.56,127.49 L458.98,128.10 L459.40,128.71 L459.81,129.33 L460.23,129.96 L460.65,130.60 L461.07,131.25 L461.07,131.25M462.87,134.15 L463.16,134.62 L463.58,135.33 L464.00,136.04 L464.42,136.76 L464.83,137.49 L465.09,137.93M466.80,141.02 L466.92,141.26 L467.34,142.04 L467.76,142.83 L468.18,143.62 L468.60,144.43 L469.02,145.24 L469.43,146.06 L469.85,146.89 L470.27,147.73 L470.69,148.57 L471.11,149.43 L471.53,150.29 L471.94,151.16 L472.36,152.03 L472.78,152.91 L473.20,153.81 L473.62,154.71 L473.93,155.39M475.40,158.62 L475.71,159.31 L476.13,160.25 L476.54,161.20 L476.96,162.16 L477.23,162.78M478.67,166.15 L479.05,167.05 L479.47,168.05 L479.89,169.05 L480.31,170.06 L480.73,171.08 L481.15,172.10 L481.56,173.13 L481.98,174.17 L482.40,175.21 L482.82,176.26 L483.24,177.31 L483.66,178.37 L484.07,179.44 L484.49,180.51 L484.86,181.46M486.16,184.86 L486.17,184.86 L486.58,185.96 L487.00,187.06 L487.42,188.18 L487.81,189.21M489.11,192.71 L489.51,193.81 L489.93,194.95 L490.35,196.10 L490.77,197.25 L491.18,198.40 L491.60,199.56 L492.02,200.73 L492.44,201.90 L492.86,203.07 L493.28,204.25 L493.69,205.43 L494.11,206.62 L494.53,207.81 L494.78,208.54M496.00,212.02 L496.20,212.62 L496.62,213.83 L497.04,215.04 L497.46,216.26 L497.54,216.48M498.76,220.06 L499.13,221.16 L499.55,222.40 L499.97,223.64 L500.39,224.88 L500.80,226.12 L501.22,227.37 L501.64,228.62 L502.06,229.87 L502.48,231.13 L502.90,232.38 L503.31,233.65 L503.73,234.91 L504.15,236.17M505.31,239.71 L505.41,239.99 L505.82,241.26 L506.24,242.54 L506.66,243.82 L506.79,244.23M507.97,247.85 L508.33,248.95 L508.75,250.24 L509.17,251.53 L509.59,252.82 L510.01,254.11 L510.42,255.41 L510.84,256.70 L511.26,258.00 L511.68,259.30 L512.10,260.60 L512.52,261.90 L512.93,263.20 L513.22,264.10M514.36,267.65 L514.61,268.41 L515.03,269.72 L515.44,271.02 L515.82,272.20M516.98,275.84 L517.12,276.25 L517.54,277.56 L517.95,278.87 L518.37,280.17 L518.79,281.48 L519.21,282.79 L519.63,284.10 L520.04,285.41 L520.46,286.71 L520.88,288.02 L521.30,289.33 L521.72,290.64 L522.14,291.94 L522.19,292.12M523.33,295.68 L523.39,295.86 L523.81,297.16 L524.23,298.47 L524.65,299.77 L524.79,300.23M525.96,303.86 L526.32,304.97 L526.74,306.27 L527.16,307.56 L527.57,308.86 L527.99,310.15 L528.41,311.44 L528.83,312.73 L529.25,314.02 L529.66,315.31 L530.08,316.60 L530.50,317.89 L530.92,319.17 L531.22,320.10M532.38,323.64 L532.59,324.29 L533.01,325.56 L533.43,326.83 L533.85,328.10 L533.86,328.15M535.06,331.76 L535.10,331.90 L535.52,333.16 L535.94,334.42 L536.36,335.68 L536.78,336.94 L537.19,338.19 L537.61,339.44 L538.03,340.69 L538.45,341.93 L538.87,343.18 L539.28,344.42 L539.70,345.65 L540.12,346.89 L540.45,347.87M541.65,351.37 L541.79,351.80 L542.21,353.02 L542.63,354.24 L543.05,355.45 L543.18,355.84M544.42,359.40 L544.72,360.28 L545.14,361.48 L545.56,362.67 L545.98,363.87 L546.40,365.05 L546.81,366.24 L547.23,367.42 L547.65,368.60 L548.07,369.78 L548.49,370.95 L548.91,372.12 L549.32,373.28 L549.74,374.44 L550.04,375.28M551.29,378.72 L551.41,379.05 L551.83,380.20 L552.25,381.33 L552.67,382.47 L552.91,383.11M554.21,386.61 L554.34,386.97 L554.76,388.09 L555.18,389.20 L555.60,390.31 L556.02,391.41 L556.43,392.51 L556.85,393.61 L557.27,394.70 L557.69,395.79 L558.11,396.87 L558.53,397.95 L558.94,399.02 L559.36,400.09 L559.78,401.16 L560.17,402.15M561.50,405.51 L561.87,406.43 L562.29,407.47 L562.71,408.51 L563.13,409.54 L563.23,409.79M564.62,413.20 L564.80,413.62 L565.22,414.63 L565.64,415.64 L566.05,416.64 L566.47,417.64 L566.89,418.63 L567.31,419.61 L567.73,420.60 L568.15,421.58 L568.56,422.55 L568.98,423.52 L569.40,424.48 L569.82,425.44 L570.24,426.40 L570.65,427.35 L571.06,428.26M572.51,431.51 L572.75,432.03 L573.16,432.95 L573.58,433.87 L574.00,434.78 L574.39,435.63M575.92,438.90 L576.09,439.28 L576.51,440.16 L576.93,441.04 L577.35,441.92 L577.77,442.79 L578.18,443.66 L578.60,444.52 L579.02,445.37 L579.44,446.22 L579.86,447.07 L580.28,447.91 L580.69,448.75 L581.11,449.58 L581.53,450.41 L581.95,451.23 L582.37,452.05 L582.78,452.87 L583.01,453.31M584.63,456.39 L584.88,456.86 L585.29,457.65 L585.71,458.43 L586.13,459.20 L586.55,459.98 L586.72,460.30M588.43,463.39 L588.64,463.76 L589.06,464.50 L589.48,465.24 L589.90,465.97 L590.31,466.70 L590.73,467.43 L591.15,468.15 L591.57,468.86 L591.99,469.57 L592.40,470.28 L592.82,470.98 L593.24,471.67 L593.66,472.37 L594.08,473.05 L594.50,473.74 L594.91,474.41 L595.33,475.09 L595.75,475.75 L596.17,476.42 L596.45,476.87M598.29,479.72 L598.68,480.31 L599.10,480.94 L599.52,481.57 L599.93,482.19 L600.35,482.81 L600.70,483.32M602.66,486.15 L602.86,486.43 L603.28,487.02 L603.70,487.61 L604.12,488.19 L604.53,488.76 L604.95,489.33 L605.37,489.90 L605.79,490.46 L606.21,491.02 L606.63,491.58 L607.04,492.13 L607.46,492.67 L607.88,493.21 L608.30,493.75 L608.72,494.29 L609.14,494.81 L609.55,495.34 L609.97,495.86 L610.39,496.38 L610.81,496.89 L611.23,497.40 L611.65,497.90 L612.00,498.32M614.16,500.86 L614.57,501.33 L614.99,501.80 L615.41,502.27 L615.83,502.73 L616.25,503.20 L616.66,503.65 L617.00,504.02M619.33,506.49 L619.59,506.75 L620.01,507.18 L620.43,507.60 L620.85,508.02 L621.27,508.44 L621.68,508.85 L622.10,509.26 L622.52,509.67 L622.94,510.07 L623.36,510.47 L623.77,510.87 L624.19,511.26 L624.61,511.65 L625.03,512.03 L625.45,512.41 L625.87,512.79 L626.28,513.17 L626.70,513.54 L627.12,513.91 L627.54,514.27 L627.96,514.63 L628.38,514.99 L628.79,515.35 L629.21,515.70 L629.63,516.05 L630.05,516.39 L630.47,516.74 L630.53,516.79M633.16,518.86 L633.39,519.04 L633.81,519.36 L634.23,519.67 L634.65,519.99 L635.07,520.29 L635.49,520.60 L635.90,520.90 L636.32,521.20 L636.61,521.41M639.46,523.36 L639.67,523.50 L640.09,523.77 L640.51,524.04 L640.92,524.31 L641.34,524.58 L641.76,524.84 L642.18,525.10 L642.60,525.36 L643.02,525.61 L643.43,525.87 L643.85,526.12 L644.27,526.37 L644.69,526.61 L645.11,526.85 L645.52,527.09 L645.94,527.33 L646.36,527.57 L646.78,527.80 L647.20,528.03 L647.62,528.26 L648.03,528.48 L648.45,528.71 L648.87,528.93 L649.29,529.15 L649.71,529.36 L650.13,529.58 L650.54,529.79 L650.96,530.00 L651.38,530.21 L651.80,530.41 L652.22,530.62 L652.64,530.82 L653.05,531.01 L653.22,531.09M656.46,532.56 L656.82,532.71 L657.24,532.89 L657.65,533.06 L658.07,533.24 L658.49,533.41 L658.91,533.58 L659.33,533.75 L659.75,533.91 L660.16,534.08 L660.58,534.24 L660.72,534.30M664.23,535.58 L664.35,535.62 L664.76,535.77 L665.18,535.91 L665.60,536.05 L666.02,536.19 L666.44,536.33 L666.86,536.47 L667.27,536.61 L667.69,536.74 L668.11,536.87 L668.53,537.00 L668.95,537.13 L669.37,537.26 L669.78,537.38 L670.20,537.51 L670.62,537.63 L671.04,537.75 L671.46,537.87 L671.88,537.99 L672.29,538.11 L672.71,538.22 L673.13,538.34 L673.55,538.45 L673.97,538.56 L674.39,538.67 L674.80,538.78 L675.22,538.89 L675.64,539.00 L676.06,539.10 L676.48,539.20 L676.89,539.31 L677.31,539.41 L677.73,539.51 L678.15,539.61 L678.57,539.70 L678.99,539.80 L679.40,539.90 L679.82,539.99 L680.24,540.08 L680.66,540.17 L681.06,540.26M684.97,541.05 L685.26,541.11 L685.68,541.18 L686.10,541.26 L686.51,541.34 L686.93,541.41 L687.35,541.49 L687.77,541.56 L688.19,541.63 L688.61,541.71 L689.02,541.78 L689.44,541.85 L689.86,541.91 L690.07,541.95M694.24,542.58 L694.46,542.61 L694.88,542.67 L695.30,542.73 L695.72,542.79 L696.13,542.84 L696.55,542.90 L696.97,542.95 L697.39,543.01 L697.81,543.06 L698.23,543.11 L698.64,543.17 L699.06,543.22 L699.48,543.27 L699.90,543.32 L700.32,543.37 L700.74,543.41 L701.15,543.46 L701.57,543.51 L701.99,543.55 L702.41,543.60 L702.83,543.64 L703.25,543.69 L703.66,543.73 L704.08,543.78 L704.50,543.82 L704.92,543.86 L705.34,543.90 L705.76,543.94 L706.17,543.98 L706.59,544.02 L707.01,544.06 L707.43,544.10 L707.85,544.14 L708.26,544.18 L708.68,544.21 L709.10,544.25 L709.52,544.28 L709.94,544.32 L710.36,544.35 L710.77,544.39 L711.19,544.42 L711.61,544.46 L712.03,544.49 L712.45,544.52 L712.87,544.55 L713.28,544.58 L713.70,544.62 L713.70,544.62M718.10,544.91 L718.30,544.93 L718.72,544.95 L719.14,544.98 L719.56,545.00 L719.98,545.03 L720.39,545.05 L720.81,545.08 L721.23,545.10 L721.65,545.12 L722.07,545.15 L722.49,545.17 L722.90,545.19 L723.32,545.21 L723.74,545.23 L723.78,545.24M728.37,545.45 L728.76,545.47 L729.18,545.49 L729.60,545.50 L730.01,545.52 L730.43,545.54 L730.85,545.55 L731.27,545.57 L731.69,545.59 L732.11,545.60 L732.52,545.62 L732.94,545.63 L733.36,545.65 L733.78,545.66 L734.20,545.68 L734.62,545.69 L735.03,545.70 L735.45,545.72 L735.87,545.73 L736.29,545.75 L736.71,545.76 L737.13,545.77 L737.54,545.78 L737.96,545.80 L738.38,545.81 L738.80,545.82 L739.22,545.83 L739.63,545.85 L740.05,545.86 L740.47,545.87 L740.89,545.88 L741.31,545.89 L741.73,545.90 L742.14,545.91 L742.56,545.92 L742.98,545.93 L743.40,545.94 L743.82,545.95 L744.24,545.96 L744.65,545.97 L745.07,545.98 L745.49,545.99 L745.91,546.00 L746.33,546.01 L746.75,546.02 L747.16,546.03 L747.58,546.04 L748.00,546.04" fill="none" stroke="#0000ff" stroke-width="2.9" stroke-linejoin="round"/><rect x="633.3" y="74.9" width="208.30000000000007" height="125.44999999999999" fill="#fff"/><line x1="632.5" y1="74.9" x2="842.4" y2="74.9" stroke="#6e6e6e" stroke-width="1.6"/><line x1="632.5" y1="200.35" x2="842.4" y2="200.35" stroke="#3a3a3a" stroke-width="1.6"/><line x1="633.3" y1="74.9" x2="633.3" y2="200.35" stroke="#3a3a3a" stroke-width="1.6"/><line x1="841.6" y1="74.9" x2="841.6" y2="200.35" stroke="#3a3a3a" stroke-width="1.6"/><rect x="633.3" y="210.1" width="208.30000000000007" height="123.70000000000002" fill="#fff"/><line x1="632.5" y1="210.1" x2="842.4" y2="210.1" stroke="#6e6e6e" stroke-width="1.6"/><line x1="632.5" y1="333.8" x2="842.4" y2="333.8" stroke="#6e6e6e" stroke-width="1.6"/><line x1="633.3" y1="210.1" x2="633.3" y2="333.8" stroke="#3a3a3a" stroke-width="1.6"/><line x1="841.6" y1="210.1" x2="841.6" y2="333.8" stroke="#3a3a3a" stroke-width="1.6"/><line x1="656.9" y1="112.4" x2="727.3" y2="112.4" stroke="#000" stroke-width="2"/><line x1="656.9" y1="136.9" x2="727.3" y2="136.9" stroke="#ff0000" stroke-width="2.4" stroke-dasharray="13.2 5.8"/><line x1="656.9" y1="161" x2="728.5" y2="161" stroke="#55c855" stroke-width="2.2" stroke-dasharray="7 2.5"/><line x1="656.9" y1="185.1" x2="728.5" y2="185.1" stroke="#0000ff" stroke-width="2.4" stroke-dasharray="22.5 4.7 6.1 4.8"/><rect x="811.10" y="106.20" width="7.7" height="1.9" fill="#000"/><rect x="811.10" y="118.10" width="7.7" height="1.9" fill="#000"/><rect x="813.90" y="106.20" width="2.1" height="13.80" fill="#000"/><rect x="811.10" y="130.20" width="7.7" height="1.9" fill="#000"/><rect x="811.10" y="142.10" width="7.7" height="1.9" fill="#000"/><rect x="813.90" y="130.20" width="2.1" height="13.80" fill="#000"/><rect x="801.90" y="130.20" width="7.7" height="1.9" fill="#000"/><rect x="801.90" y="142.10" width="7.7" height="1.9" fill="#000"/><rect x="804.70" y="130.20" width="2.1" height="13.80" fill="#000"/><rect x="811.10" y="154.30" width="7.7" height="1.9" fill="#000"/><rect x="811.10" y="166.30" width="7.7" height="1.9" fill="#000"/><rect x="813.90" y="154.30" width="2.1" height="13.90" fill="#000"/><rect x="801.90" y="154.30" width="7.7" height="1.9" fill="#000"/><rect x="801.90" y="166.30" width="7.7" height="1.9" fill="#000"/><rect x="804.70" y="154.30" width="2.1" height="13.90" fill="#000"/><rect x="792.70" y="154.30" width="7.7" height="1.9" fill="#000"/><rect x="792.70" y="166.30" width="7.7" height="1.9" fill="#000"/><rect x="795.50" y="154.30" width="2.1" height="13.90" fill="#000"/><line x1="113.9" y1="1065.26" x2="847.2" y2="1065.26" stroke="#a2a2a2" stroke-width="1.2" stroke-dasharray="3.1 2.3 0.6 2.14" stroke-dashoffset="3.04"/><line x1="113.9" y1="986.42" x2="847.2" y2="986.42" stroke="#a2a2a2" stroke-width="1.2" stroke-dasharray="3.1 2.3 0.6 2.14" stroke-dashoffset="3.04"/><line x1="113.9" y1="907.58" x2="847.2" y2="907.58" stroke="#a2a2a2" stroke-width="1.2" stroke-dasharray="3.1 2.3 0.6 2.14" stroke-dashoffset="3.04"/><line x1="113.9" y1="828.74" x2="847.2" y2="828.74" stroke="#a2a2a2" stroke-width="1.2" stroke-dasharray="3.1 2.3 0.6 2.14" stroke-dashoffset="3.04"/><line x1="113.9" y1="749.90" x2="847.2" y2="749.90" stroke="#a2a2a2" stroke-width="1.2" stroke-dasharray="3.1 2.3 0.6 2.14" stroke-dashoffset="3.04"/><line x1="113.9" y1="671.06" x2="847.2" y2="671.06" stroke="#a2a2a2" stroke-width="1.2" stroke-dasharray="3.1 2.3 0.6 2.14" stroke-dashoffset="3.04"/><rect x="132.80" y="1025.84" width="25.85" height="117.76" fill="#4f81bd"/><rect x="158.35" y="931.23" width="25.85" height="212.37" fill="#c0504d"/><rect x="183.90" y="868.16" width="25.85" height="275.44" fill="#9bbb59"/><rect x="209.45" y="970.65" width="25.85" height="172.95" fill="#8064a2"/><rect x="273.00" y="812.97" width="25.85" height="330.63" fill="#4f81bd"/><rect x="298.55" y="852.39" width="25.85" height="291.21" fill="#c0504d"/><rect x="324.10" y="836.62" width="25.85" height="306.98" fill="#9bbb59"/><rect x="349.65" y="820.86" width="25.85" height="322.74" fill="#8064a2"/><rect x="412.80" y="994.30" width="25.85" height="149.30" fill="#4f81bd"/><rect x="438.35" y="978.54" width="25.85" height="165.06" fill="#c0504d"/><rect x="463.90" y="1049.49" width="25.85" height="94.11" fill="#9bbb59"/><rect x="489.45" y="954.88" width="25.85" height="188.72" fill="#8064a2"/><rect x="553.40" y="1073.14" width="25.85" height="70.46" fill="#4f81bd"/><rect x="578.95" y="1128.33" width="25.85" height="15.27" fill="#c0504d"/><rect x="604.50" y="1136.22" width="25.85" height="7.38" fill="#9bbb59"/><rect x="699.50" y="1120.45" width="25.85" height="23.15" fill="#4f81bd"/><rect x="725.05" y="1136.22" width="25.85" height="7.38" fill="#c0504d"/><rect x="750.60" y="1136.22" width="25.85" height="7.38" fill="#9bbb59"/><rect x="776.15" y="1136.22" width="25.85" height="7.38" fill="#8064a2"/><line x1="114" y1="671" x2="114" y2="1151" stroke="#c4c4c4" stroke-width="1.8"/><line x1="106.5" y1="1143.55" x2="820.3" y2="1143.55" stroke="#b5b5b5" stroke-width="1.4"/><line x1="106.5" y1="1065.26" x2="114" y2="1065.26" stroke="#b0b0b0" stroke-width="1.4"/><line x1="106.5" y1="986.42" x2="114" y2="986.42" stroke="#b0b0b0" stroke-width="1.4"/><line x1="106.5" y1="907.58" x2="114" y2="907.58" stroke="#b0b0b0" stroke-width="1.4"/><line x1="106.5" y1="828.74" x2="114" y2="828.74" stroke="#b0b0b0" stroke-width="1.4"/><line x1="106.5" y1="749.90" x2="114" y2="749.90" stroke="#b0b0b0" stroke-width="1.4"/><line x1="106.5" y1="671.06" x2="114" y2="671.06" stroke="#b0b0b0" stroke-width="1.4"/><line x1="253.0" y1="1143.5" x2="253.0" y2="1151" stroke="#c0c0c0" stroke-width="1.6"/><line x1="394.0" y1="1143.5" x2="394.0" y2="1151" stroke="#c0c0c0" stroke-width="1.6"/><line x1="534.0" y1="1143.5" x2="534.0" y2="1151" stroke="#c0c0c0" stroke-width="1.6"/><line x1="680.1" y1="1143.5" x2="680.1" y2="1151" stroke="#c0c0c0" stroke-width="1.6"/><line x1="819.9" y1="1143.5" x2="819.9" y2="1151" stroke="#c0c0c0" stroke-width="1.6"/><path d="M804.74,-0.30 C800.04,3.30 797.10,8.01 797.10,13.55 C797.10,19.09 800.04,23.80 804.74,27.40 L806.90,26.01 C803.37,21.31 802.00,17.98 802.00,13.55 C802.00,9.12 803.37,5.79 806.90,1.08 Z" fill="#000"/><path d="M833.26,-0.30 C837.96,3.30 840.90,8.01 840.90,13.55 C840.90,19.09 837.96,23.80 833.26,27.40 L831.10,26.01 C834.63,21.31 836.00,17.98 836.00,13.55 C836.00,9.12 834.63,5.79 831.10,1.08 Z" fill="#000"/><path d="M811.67,634.20 C807.01,637.79 804.10,642.48 804.10,648.00 C804.10,653.52 807.01,658.21 811.67,661.80 L813.80,660.42 C810.31,655.73 808.95,652.42 808.95,648.00 C808.95,643.58 810.31,640.27 813.80,635.58 Z" fill="#000"/><path d="M842.11,634.20 C846.72,637.79 849.60,642.48 849.60,648.00 C849.60,653.52 846.72,658.21 842.11,661.80 L840.00,660.42 C843.46,655.73 844.80,652.42 844.80,648.00 C844.80,643.58 843.46,640.27 840.00,635.58 Z" fill="#000"/><rect x="745.3" y="684.7" width="10.6" height="10.4" fill="#4f81bd"/><rect x="745.3" y="723.2" width="10.6" height="10.6" fill="#c0504d"/><rect x="745.3" y="761.4" width="10.6" height="10.5" fill="#9bbb59"/><rect x="745.3" y="799.6" width="10.6" height="10.8" fill="#8064a2"/><text transform="translate(47.12,52.65) scale(0.30749,0.23000)" font-family='"Liberation Sans", sans-serif' font-size="100" fill="#000" stroke="#000" stroke-width="0.372" stroke-linejoin="round" >0.25</text><text transform="translate(47.12,152.85) scale(0.30749,0.23000)" font-family='"Liberation Sans", sans-serif' font-size="100" fill="#000" stroke="#000" stroke-width="0.372" stroke-linejoin="round" >0.20</text><text transform="translate(47.12,253.05) scale(0.30749,0.23000)" font-family='"Liberation Sans", sans-serif' font-size="100" fill="#000" stroke="#000" stroke-width="0.372" stroke-linejoin="round" >0.15</text><text transform="translate(47.12,353.25) scale(0.30749,0.23000)" font-family='"Liberation Sans", sans-serif' font-size="100" fill="#000" stroke="#000" stroke-width="0.372" stroke-linejoin="round" >0.10</text><text transform="translate(47.12,453.45) scale(0.30749,0.23000)" font-family='"Liberation Sans", sans-serif' font-size="100" fill="#000" stroke="#000" stroke-width="0.372" stroke-linejoin="round" >0.05</text><text transform="translate(47.12,553.65) scale(0.30749,0.23000)" font-family='"Liberation Sans", sans-serif' font-size="100" fill="#000" stroke="#000" stroke-width="0.372" stroke-linejoin="round" >0.00</text><text transform="translate(149.50,574.95) scale(0.31375,0.22714)" font-family='"Liberation Sans", sans-serif' font-size="100" fill="#000" stroke="#000" stroke-width="0.370" stroke-linejoin="round" >-2</text><text transform="translate(247.82,574.95) scale(0.30833,0.22714)" font-family='"Liberation Sans", sans-serif' font-size="100" fill="#000" stroke="#000" stroke-width="0.373" stroke-linejoin="round" >0</text><text transform="translate(339.81,574.95) scale(0.32826,0.22714)" font-family='"Liberation Sans", sans-serif' font-size="100" fill="#000" stroke="#000" stroke-width="0.360" stroke-linejoin="round" >2</text><text transform="translate(433.46,574.95) scale(0.29608,0.22714)" font-family='"Liberation Sans", sans-serif' font-size="100" fill="#000" stroke="#000" stroke-width="0.382" stroke-linejoin="round" >4</text><text transform="translate(525.01,574.95) scale(0.32826,0.22714)" font-family='"Liberation Sans", sans-serif' font-size="100" fill="#000" stroke="#000" stroke-width="0.360" stroke-linejoin="round" >6</text><text transform="translate(617.96,574.95) scale(0.32128,0.22714)" font-family='"Liberation Sans", sans-serif' font-size="100" fill="#000" stroke="#000" stroke-width="0.365" stroke-linejoin="round" >8</text><text transform="translate(702.63,574.95) scale(0.30202,0.22714)" font-family='"Liberation Sans", sans-serif' font-size="100" fill="#000" stroke="#000" stroke-width="0.378" stroke-linejoin="round" >10</text><text transform="translate(795.61,574.95) scale(0.30510,0.22714)" font-family='"Liberation Sans", sans-serif' font-size="100" fill="#000" stroke="#000" stroke-width="0.376" stroke-linejoin="round" >12</text><text transform="translate(354.34,605.32) scale(0.26681,0.27740)" font-family='"Liberation Sans", sans-serif' font-size="100" fill="#000" stroke="#000" stroke-width="0.551" stroke-linejoin="round" >Lesion Length (cm)</text><text transform="translate(21.48,351.60) rotate(-90) scale(0.29031,0.27329)" font-family='"Liberation Sans", sans-serif' font-size="100" fill="#000" stroke="#000" stroke-width="3.726" stroke-linejoin="round" >Density</text><text transform="translate(740.68,95.55) scale(0.23476,0.18429)" font-family='"Liberation Sans", sans-serif' font-size="100" fill="#000" stroke="#000" stroke-width="0.477" stroke-linejoin="round" >Season</text><text transform="translate(745.32,191.55) scale(0.24108,0.18356)" font-family='"Liberation Sans", sans-serif' font-size="100" fill="#000" stroke="#000" stroke-width="0.471" stroke-linejoin="round" >Pooled</text><text transform="translate(646.32,231.35) scale(0.24153,0.18696)" font-family='"Liberation Sans", sans-serif' font-size="100" fill="#000" stroke="#000" stroke-width="0.467" stroke-linejoin="round" >Mean</text><text transform="translate(721.77,231.35) scale(0.23558,0.18429)" font-family='"Liberation Sans", sans-serif' font-size="100" fill="#000" stroke="#000" stroke-width="0.476" stroke-linejoin="round" >StDev</text><text transform="translate(810.31,231.35) scale(0.26786,0.18696)" font-family='"Liberation Sans", sans-serif' font-size="100" fill="#000" stroke="#000" stroke-width="0.440" stroke-linejoin="round" >N</text><text transform="translate(647.57,255.05) scale(0.23909,0.18857)" font-family='"Liberation Sans", sans-serif' font-size="100" fill="#000" stroke="#000" stroke-width="0.468" stroke-linejoin="round" >4.617</text><text transform="translate(726.74,255.05) scale(0.24250,0.18857)" font-family='"Liberation Sans", sans-serif' font-size="100" fill="#000" stroke="#000" stroke-width="0.464" stroke-linejoin="round" >2.387</text><text transform="translate(801.38,255.05) scale(0.24369,0.18857)" font-family='"Liberation Sans", sans-serif' font-size="100" fill="#000" stroke="#000" stroke-width="0.463" stroke-linejoin="round" >88</text><text transform="translate(647.09,278.75) scale(0.24008,0.18857)" font-family='"Liberation Sans", sans-serif' font-size="100" fill="#000" stroke="#000" stroke-width="0.467" stroke-linejoin="round" >3.603</text><text transform="translate(726.74,278.75) scale(0.24149,0.18857)" font-family='"Liberation Sans", sans-serif' font-size="100" fill="#000" stroke="#000" stroke-width="0.465" stroke-linejoin="round" >2.051</text><text transform="translate(801.38,278.75) scale(0.24369,0.18857)" font-family='"Liberation Sans", sans-serif' font-size="100" fill="#000" stroke="#000" stroke-width="0.463" stroke-linejoin="round" >88</text><text transform="translate(647.09,302.15) scale(0.24008,0.18857)" font-family='"Liberation Sans", sans-serif' font-size="100" fill="#000" stroke="#000" stroke-width="0.467" stroke-linejoin="round" >3.233</text><text transform="translate(725.99,302.15) scale(0.24557,0.18857)" font-family='"Liberation Sans", sans-serif' font-size="100" fill="#000" stroke="#000" stroke-width="0.461" stroke-linejoin="round" >1.852</text><text transform="translate(801.38,302.15) scale(0.24369,0.18857)" font-family='"Liberation Sans", sans-serif' font-size="100" fill="#000" stroke="#000" stroke-width="0.463" stroke-linejoin="round" >88</text><text transform="translate(647.09,325.95) scale(0.24008,0.18857)" font-family='"Liberation Sans", sans-serif' font-size="100" fill="#000" stroke="#000" stroke-width="0.467" stroke-linejoin="round" >3.818</text><text transform="translate(726.00,325.95) scale(0.24351,0.18857)" font-family='"Liberation Sans", sans-serif' font-size="100" fill="#000" stroke="#000" stroke-width="0.463" stroke-linejoin="round" >1.830</text><text transform="translate(801.38,325.95) scale(0.24369,0.18857)" font-family='"Liberation Sans", sans-serif' font-size="100" fill="#000" stroke="#000" stroke-width="0.463" stroke-linejoin="round" >88</text><text transform="translate(808.60,26.70) scale(0.40000,0.42553)" font-family='"Liberation Serif", serif' font-weight="bold" font-size="100" fill="#000" >a</text><text transform="translate(81.73,1150.90) scale(0.21667,0.20143)" font-family='"Liberation Sans", sans-serif' font-size="100" fill="#000" >0</text><text transform="translate(70.30,1072.06) scale(0.21212,0.20143)" font-family='"Liberation Sans", sans-serif' font-size="100" fill="#000" >10</text><text transform="translate(70.97,993.22) scale(0.20588,0.20143)" font-family='"Liberation Sans", sans-serif' font-size="100" fill="#000" >20</text><text transform="translate(71.18,914.38) scale(0.20388,0.20143)" font-family='"Liberation Sans", sans-serif' font-size="100" fill="#000" >30</text><text transform="translate(71.60,835.54) scale(0.20000,0.20143)" font-family='"Liberation Sans", sans-serif' font-size="100" fill="#000" >40</text><text transform="translate(71.18,756.70) scale(0.20388,0.20143)" font-family='"Liberation Sans", sans-serif' font-size="100" fill="#000" >50</text><text transform="translate(70.97,677.86) scale(0.20588,0.20143)" font-family='"Liberation Sans", sans-serif' font-size="100" fill="#000" >60</text><text transform="translate(175.74,1178.20) scale(0.19259,0.19714)" font-family='"Liberation Sans", sans-serif' font-size="100" fill="#000" >&lt; 2.5</text><text transform="translate(300.92,1178.20) scale(0.19553,0.19714)" font-family='"Liberation Sans", sans-serif' font-size="100" fill="#000" >2.5 - 5.0</text><text transform="translate(441.73,1178.20) scale(0.19248,0.19714)" font-family='"Liberation Sans", sans-serif' font-size="100" fill="#000" >5.0 - 7.5</text><text transform="translate(576.11,1178.20) scale(0.19758,0.19714)" font-family='"Liberation Sans", sans-serif' font-size="100" fill="#000" >7.5 - 10.0</text><text transform="translate(735.62,1178.20) scale(0.19522,0.19714)" font-family='"Liberation Sans", sans-serif' font-size="100" fill="#000" >&gt; 10.0</text><text transform="translate(393.93,1211.22) scale(0.26752,0.26781)" font-family='"Liberation Sans", sans-serif' font-size="100" fill="#000" stroke="#000" stroke-width="0.560" stroke-linejoin="round" >Lesion Length (cm)</text><text transform="translate(20.48,962.72) rotate(-90) scale(0.29321,0.28623)" font-family='"Liberation Sans", sans-serif' font-size="100" fill="#000" stroke="#000" stroke-width="3.624" stroke-linejoin="round" >Frequency</text><text transform="translate(759.48,696.92) scale(0.22723,0.21894)" font-family='"Liberation Serif", serif' font-size="100" fill="#000" stroke="#000" stroke-width="0.672" stroke-linejoin="round" >S-I</text><text transform="translate(759.50,735.72) scale(0.22517,0.22197)" font-family='"Liberation Serif", serif' font-size="100" fill="#000" stroke="#000" stroke-width="0.671" stroke-linejoin="round" >S-II</text><text transform="translate(759.50,773.72) scale(0.22517,0.21894)" font-family='"Liberation Serif", serif' font-size="100" fill="#000" stroke="#000" stroke-width="0.676" stroke-linejoin="round" >S-II</text><text transform="translate(759.73,811.72) scale(0.21515,0.21522)" font-family='"Liberation Serif", serif' font-size="100" fill="#000" stroke="#000" stroke-width="0.697" stroke-linejoin="round" >Pooled</text><text transform="translate(815.80,660.90) scale(0.40392,0.41304)" font-family='"Liberation Serif", serif' font-weight="bold" font-size="100" fill="#000" >b</text></svg></body></html>
